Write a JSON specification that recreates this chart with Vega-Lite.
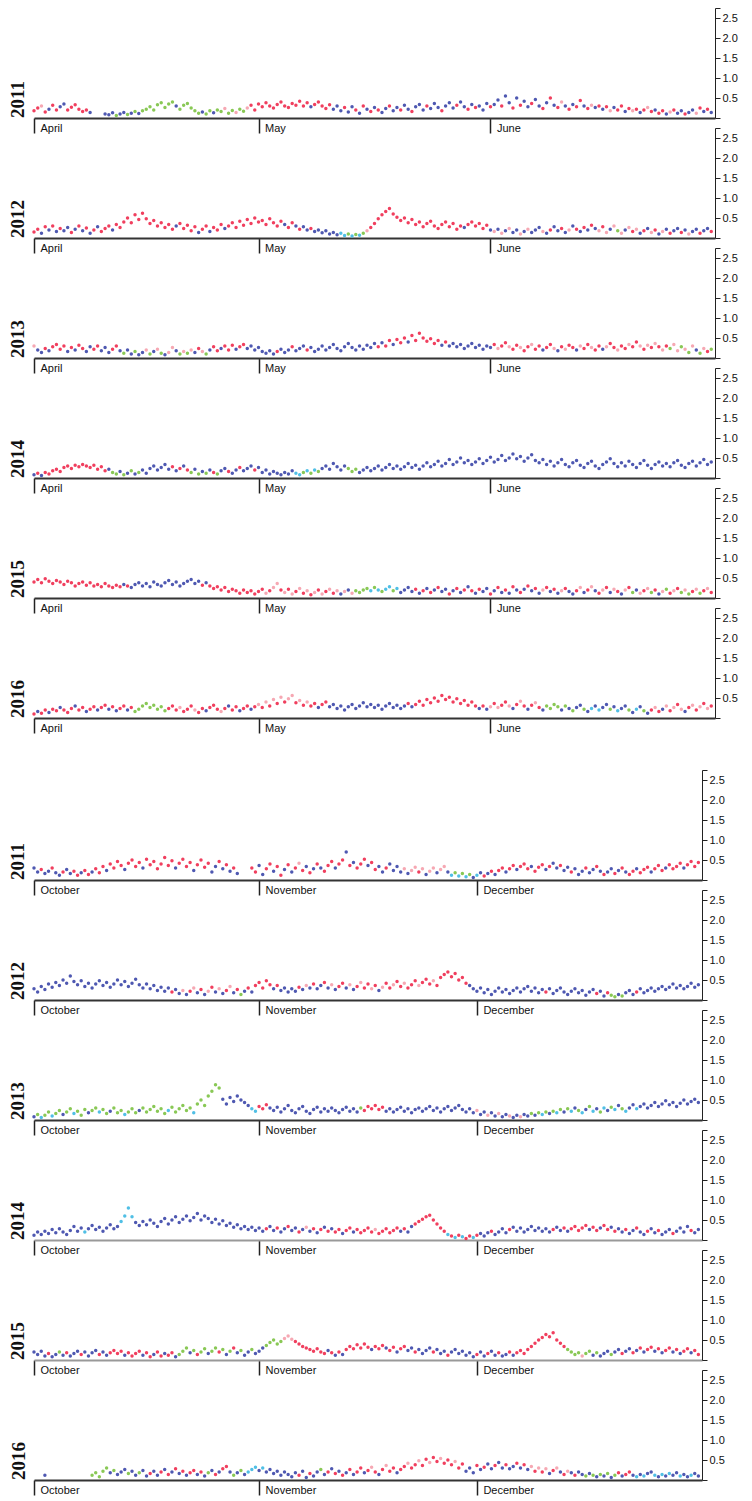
{
"$schema":"https://vega.github.io/schema/vega-lite/v6.json",
"padding":{"left":9,"top":7,"right":4,"bottom":2},
"config":{
"view":{"stroke":null},
"title":{"orient":"left","anchor":"start","frame":"group","font":"Liberation Serif","fontSize":19,"fontWeight":"bold","color":"#111","offset":4},
"axis":{"grid":false,"labelFont":"Liberation Sans","labelFontSize":11,"labelColor":"#111"},
"axisX":{"domainColor":"#333","domainWidth":2,"tickColor":"#222","tickWidth":1.5,"tickSize":15,"labelPadding":-11,"labelAlign":"left","labelBaseline":"top","labelOffset":6,"labelFlush":false,"labelOverlap":false,"labelBound":false},
"axisY":{"domainColor":"#222","tickColor":"#222","tickSize":5,"labelPadding":2},
"circle":{"size":12,"opacity":0.9}
},
"datasets":{
"a11":[{"d":0,"v":0.18,"c":"r"},{"d":0.5,"v":0.25,"c":"r"},{"d":1,"v":0.3,"c":"p"},{"d":1.5,"v":0.15,"c":"r"},{"d":2,"v":0.22,"c":"b"},{"d":2.5,"v":0.32,"c":"r"},{"d":3,"v":0.2,"c":"r"},{"d":3.5,"v":0.28,"c":"b"},{"d":4,"v":0.35,"c":"b"},{"d":4.5,"v":0.2,"c":"r"},{"d":5,"v":0.27,"c":"r"},{"d":5.5,"v":0.33,"c":"r"},{"d":6,"v":0.22,"c":"r"},{"d":6.5,"v":0.16,"c":"r"},{"d":7,"v":0.2,"c":"r"},{"d":7.5,"v":0.14,"c":"b"},{"d":9.5,"v":0.1,"c":"b"},{"d":10,"v":0.08,"c":"b"},{"d":10.5,"v":0.13,"c":"b"},{"d":11,"v":0.06,"c":"g"},{"d":11.5,"v":0.1,"c":"b"},{"d":12,"v":0.14,"c":"b"},{"d":12.5,"v":0.09,"c":"g"},{"d":13,"v":0.12,"c":"b"},{"d":13.5,"v":0.16,"c":"g"},{"d":14,"v":0.11,"c":"b"},{"d":14.5,"v":0.18,"c":"g"},{"d":15,"v":0.22,"c":"g"},{"d":15.5,"v":0.28,"c":"g"},{"d":16,"v":0.2,"c":"g"},{"d":16.5,"v":0.33,"c":"g"},{"d":17,"v":0.38,"c":"g"},{"d":17.5,"v":0.26,"c":"g"},{"d":18,"v":0.35,"c":"g"},{"d":18.5,"v":0.4,"c":"g"},{"d":19,"v":0.3,"c":"b"},{"d":19.5,"v":0.22,"c":"g"},{"d":20,"v":0.32,"c":"g"},{"d":20.5,"v":0.36,"c":"g"},{"d":21,"v":0.25,"c":"g"},{"d":21.5,"v":0.18,"c":"g"},{"d":22,"v":0.12,"c":"g"},{"d":22.5,"v":0.15,"c":"b"},{"d":23,"v":0.1,"c":"g"},{"d":23.5,"v":0.18,"c":"g"},{"d":24,"v":0.13,"c":"b"},{"d":24.5,"v":0.2,"c":"g"},{"d":25,"v":0.16,"c":"g"},{"d":25.5,"v":0.24,"c":"p"},{"d":26,"v":0.12,"c":"g"},{"d":26.5,"v":0.19,"c":"g"},{"d":27,"v":0.14,"c":"p"},{"d":27.5,"v":0.22,"c":"g"},{"d":28,"v":0.17,"c":"g"},{"d":28.5,"v":0.25,"c":"p"},{"d":29,"v":0.32,"c":"r"},{"d":29.5,"v":0.2,"c":"r"},{"d":30,"v":0.35,"c":"r"},{"d":30.5,"v":0.28,"c":"r"},{"d":31,"v":0.38,"c":"r"},{"d":31.5,"v":0.3,"c":"r"},{"d":32,"v":0.25,"c":"r"},{"d":32.5,"v":0.34,"c":"r"},{"d":33,"v":0.4,"c":"r"},{"d":33.5,"v":0.3,"c":"r"},{"d":34,"v":0.26,"c":"r"},{"d":34.5,"v":0.36,"c":"r"},{"d":35,"v":0.32,"c":"r"},{"d":35.5,"v":0.42,"c":"r"},{"d":36,"v":0.3,"c":"r"},{"d":36.5,"v":0.38,"c":"r"},{"d":37,"v":0.28,"c":"b"},{"d":37.5,"v":0.34,"c":"r"},{"d":38,"v":0.4,"c":"r"},{"d":38.5,"v":0.3,"c":"r"},{"d":39,"v":0.24,"c":"r"},{"d":39.5,"v":0.33,"c":"r"},{"d":40,"v":0.22,"c":"b"},{"d":40.5,"v":0.3,"c":"b"},{"d":41,"v":0.18,"c":"b"},{"d":41.5,"v":0.26,"c":"r"},{"d":42,"v":0.15,"c":"b"},{"d":42.5,"v":0.28,"c":"b"},{"d":43,"v":0.2,"c":"r"},{"d":43.5,"v":0.12,"c":"b"},{"d":44,"v":0.3,"c":"r"},{"d":44.5,"v":0.22,"c":"b"},{"d":45,"v":0.16,"c":"r"},{"d":45.5,"v":0.26,"c":"b"},{"d":46,"v":0.2,"c":"r"},{"d":46.5,"v":0.14,"c":"b"},{"d":47,"v":0.24,"c":"b"},{"d":47.5,"v":0.3,"c":"r"},{"d":48,"v":0.18,"c":"b"},{"d":48.5,"v":0.26,"c":"b"},{"d":49,"v":0.2,"c":"r"},{"d":49.5,"v":0.32,"c":"b"},{"d":50,"v":0.22,"c":"b"},{"d":50.5,"v":0.16,"c":"r"},{"d":51,"v":0.28,"c":"b"},{"d":51.5,"v":0.34,"c":"b"},{"d":52,"v":0.2,"c":"b"},{"d":52.5,"v":0.3,"c":"r"},{"d":53,"v":0.24,"c":"b"},{"d":53.5,"v":0.36,"c":"b"},{"d":54,"v":0.26,"c":"b"},{"d":54.5,"v":0.18,"c":"r"},{"d":55,"v":0.3,"c":"b"},{"d":55.5,"v":0.38,"c":"b"},{"d":56,"v":0.25,"c":"b"},{"d":56.5,"v":0.32,"c":"r"},{"d":57,"v":0.4,"c":"b"},{"d":57.5,"v":0.28,"c":"b"},{"d":58,"v":0.22,"c":"r"},{"d":58.5,"v":0.34,"c":"b"},{"d":59,"v":0.26,"c":"r"},{"d":59.5,"v":0.3,"c":"b"},{"d":60,"v":0.2,"c":"b"},{"d":60.5,"v":0.36,"c":"b"},{"d":61,"v":0.28,"c":"r"},{"d":61.5,"v":0.34,"c":"b"},{"d":62,"v":0.45,"c":"b"},{"d":62.5,"v":0.3,"c":"r"},{"d":63,"v":0.55,"c":"b"},{"d":63.5,"v":0.38,"c":"b"},{"d":64,"v":0.25,"c":"r"},{"d":64.5,"v":0.5,"c":"b"},{"d":65,"v":0.32,"c":"r"},{"d":65.5,"v":0.42,"c":"b"},{"d":66,"v":0.28,"c":"b"},{"d":66.5,"v":0.36,"c":"r"},{"d":67,"v":0.46,"c":"b"},{"d":67.5,"v":0.3,"c":"b"},{"d":68,"v":0.24,"c":"r"},{"d":68.5,"v":0.38,"c":"b"},{"d":69,"v":0.5,"c":"r"},{"d":69.5,"v":0.32,"c":"b"},{"d":70,"v":0.26,"c":"r"},{"d":70.5,"v":0.4,"c":"p"},{"d":71,"v":0.3,"c":"b"},{"d":71.5,"v":0.22,"c":"r"},{"d":72,"v":0.34,"c":"b"},{"d":72.5,"v":0.28,"c":"r"},{"d":73,"v":0.44,"c":"r"},{"d":73.5,"v":0.3,"c":"b"},{"d":74,"v":0.24,"c":"r"},{"d":74.5,"v":0.32,"c":"p"},{"d":75,"v":0.26,"c":"b"},{"d":75.5,"v":0.3,"c":"r"},{"d":76,"v":0.22,"c":"b"},{"d":76.5,"v":0.28,"c":"r"},{"d":77,"v":0.18,"c":"p"},{"d":77.5,"v":0.26,"c":"b"},{"d":78,"v":0.2,"c":"r"},{"d":78.5,"v":0.3,"c":"r"},{"d":79,"v":0.16,"c":"b"},{"d":79.5,"v":0.24,"c":"r"},{"d":80,"v":0.18,"c":"p"},{"d":80.5,"v":0.22,"c":"r"},{"d":81,"v":0.14,"c":"b"},{"d":81.5,"v":0.2,"c":"r"},{"d":82,"v":0.26,"c":"p"},{"d":82.5,"v":0.16,"c":"r"},{"d":83,"v":0.2,"c":"b"},{"d":83.5,"v":0.12,"c":"r"},{"d":84,"v":0.18,"c":"r"},{"d":84.5,"v":0.1,"c":"b"},{"d":85,"v":0.15,"c":"p"},{"d":85.5,"v":0.2,"c":"r"},{"d":86,"v":0.12,"c":"b"},{"d":86.5,"v":0.18,"c":"b"},{"d":87,"v":0.1,"c":"r"},{"d":87.5,"v":0.14,"c":"b"},{"d":88,"v":0.2,"c":"b"},{"d":88.5,"v":0.12,"c":"p"},{"d":89,"v":0.25,"c":"r"},{"d":89.5,"v":0.16,"c":"b"},{"d":90,"v":0.22,"c":"r"},{"d":90.5,"v":0.14,"c":"b"}],
"a12":[{"d":0,"v":0.15,"c":"r"},{"d":0.5,"v":0.22,"c":"r"},{"d":1,"v":0.12,"c":"b"},{"d":1.5,"v":0.28,"c":"r"},{"d":2,"v":0.2,"c":"b"},{"d":2.5,"v":0.3,"c":"r"},{"d":3,"v":0.16,"c":"b"},{"d":3.5,"v":0.24,"c":"r"},{"d":4,"v":0.18,"c":"b"},{"d":4.5,"v":0.26,"c":"b"},{"d":5,"v":0.14,"c":"r"},{"d":5.5,"v":0.22,"c":"b"},{"d":6,"v":0.3,"c":"r"},{"d":6.5,"v":0.18,"c":"b"},{"d":7,"v":0.25,"c":"r"},{"d":7.5,"v":0.12,"c":"b"},{"d":8,"v":0.2,"c":"r"},{"d":8.5,"v":0.28,"c":"b"},{"d":9,"v":0.16,"c":"r"},{"d":9.5,"v":0.24,"c":"r"},{"d":10,"v":0.3,"c":"r"},{"d":10.5,"v":0.2,"c":"b"},{"d":11,"v":0.34,"c":"r"},{"d":11.5,"v":0.26,"c":"r"},{"d":12,"v":0.4,"c":"r"},{"d":12.5,"v":0.5,"c":"r"},{"d":13,"v":0.38,"c":"r"},{"d":13.5,"v":0.58,"c":"r"},{"d":14,"v":0.46,"c":"r"},{"d":14.5,"v":0.62,"c":"r"},{"d":15,"v":0.48,"c":"r"},{"d":15.5,"v":0.36,"c":"r"},{"d":16,"v":0.44,"c":"r"},{"d":16.5,"v":0.3,"c":"r"},{"d":17,"v":0.38,"c":"r"},{"d":17.5,"v":0.26,"c":"r"},{"d":18,"v":0.34,"c":"r"},{"d":18.5,"v":0.22,"c":"r"},{"d":19,"v":0.3,"c":"b"},{"d":19.5,"v":0.36,"c":"r"},{"d":20,"v":0.24,"c":"r"},{"d":20.5,"v":0.32,"c":"r"},{"d":21,"v":0.18,"c":"r"},{"d":21.5,"v":0.28,"c":"r"},{"d":22,"v":0.14,"c":"b"},{"d":22.5,"v":0.22,"c":"r"},{"d":23,"v":0.3,"c":"r"},{"d":23.5,"v":0.16,"c":"b"},{"d":24,"v":0.26,"c":"r"},{"d":24.5,"v":0.2,"c":"r"},{"d":25,"v":0.34,"c":"r"},{"d":25.5,"v":0.24,"c":"b"},{"d":26,"v":0.3,"c":"r"},{"d":26.5,"v":0.38,"c":"r"},{"d":27,"v":0.26,"c":"r"},{"d":27.5,"v":0.42,"c":"r"},{"d":28,"v":0.32,"c":"r"},{"d":28.5,"v":0.46,"c":"r"},{"d":29,"v":0.36,"c":"r"},{"d":29.5,"v":0.5,"c":"r"},{"d":30,"v":0.4,"c":"r"},{"d":30.5,"v":0.44,"c":"r"},{"d":31,"v":0.34,"c":"r"},{"d":31.5,"v":0.48,"c":"r"},{"d":32,"v":0.38,"c":"r"},{"d":32.5,"v":0.3,"c":"r"},{"d":33,"v":0.42,"c":"r"},{"d":33.5,"v":0.34,"c":"b"},{"d":34,"v":0.26,"c":"r"},{"d":34.5,"v":0.38,"c":"r"},{"d":35,"v":0.3,"c":"b"},{"d":35.5,"v":0.22,"c":"r"},{"d":36,"v":0.28,"c":"b"},{"d":36.5,"v":0.2,"c":"b"},{"d":37,"v":0.24,"c":"r"},{"d":37.5,"v":0.16,"c":"b"},{"d":38,"v":0.2,"c":"b"},{"d":38.5,"v":0.13,"c":"b"},{"d":39,"v":0.18,"c":"b"},{"d":39.5,"v":0.1,"c":"b"},{"d":40,"v":0.14,"c":"b"},{"d":40.5,"v":0.08,"c":"b"},{"d":41,"v":0.12,"c":"c"},{"d":41.5,"v":0.06,"c":"c"},{"d":42,"v":0.1,"c":"g"},{"d":42.5,"v":0.05,"c":"c"},{"d":43,"v":0.09,"c":"g"},{"d":43.5,"v":0.07,"c":"c"},{"d":44,"v":0.12,"c":"g"},{"d":44.5,"v":0.18,"c":"p"},{"d":45,"v":0.26,"c":"r"},{"d":45.5,"v":0.36,"c":"r"},{"d":46,"v":0.48,"c":"r"},{"d":46.5,"v":0.58,"c":"r"},{"d":47,"v":0.66,"c":"r"},{"d":47.5,"v":0.74,"c":"r"},{"d":48,"v":0.6,"c":"r"},{"d":48.5,"v":0.52,"c":"r"},{"d":49,"v":0.44,"c":"r"},{"d":49.5,"v":0.5,"c":"r"},{"d":50,"v":0.38,"c":"r"},{"d":50.5,"v":0.46,"c":"r"},{"d":51,"v":0.34,"c":"r"},{"d":51.5,"v":0.4,"c":"r"},{"d":52,"v":0.28,"c":"r"},{"d":52.5,"v":0.36,"c":"r"},{"d":53,"v":0.42,"c":"r"},{"d":53.5,"v":0.3,"c":"r"},{"d":54,"v":0.24,"c":"r"},{"d":54.5,"v":0.34,"c":"r"},{"d":55,"v":0.4,"c":"r"},{"d":55.5,"v":0.28,"c":"r"},{"d":56,"v":0.36,"c":"r"},{"d":56.5,"v":0.22,"c":"r"},{"d":57,"v":0.3,"c":"r"},{"d":57.5,"v":0.26,"c":"b"},{"d":58,"v":0.34,"c":"r"},{"d":58.5,"v":0.4,"c":"r"},{"d":59,"v":0.3,"c":"r"},{"d":59.5,"v":0.36,"c":"r"},{"d":60,"v":0.24,"c":"r"},{"d":60.5,"v":0.32,"c":"r"},{"d":61,"v":0.2,"c":"b"},{"d":61.5,"v":0.16,"c":"p"},{"d":62,"v":0.22,"c":"b"},{"d":62.5,"v":0.12,"c":"p"},{"d":63,"v":0.18,"c":"b"},{"d":63.5,"v":0.24,"c":"p"},{"d":64,"v":0.14,"c":"b"},{"d":64.5,"v":0.2,"c":"b"},{"d":65,"v":0.1,"c":"p"},{"d":65.5,"v":0.16,"c":"b"},{"d":66,"v":0.22,"c":"p"},{"d":66.5,"v":0.14,"c":"b"},{"d":67,"v":0.2,"c":"b"},{"d":67.5,"v":0.26,"c":"b"},{"d":68,"v":0.16,"c":"p"},{"d":68.5,"v":0.12,"c":"b"},{"d":69,"v":0.2,"c":"r"},{"d":69.5,"v":0.28,"c":"b"},{"d":70,"v":0.18,"c":"b"},{"d":70.5,"v":0.24,"c":"r"},{"d":71,"v":0.14,"c":"b"},{"d":71.5,"v":0.2,"c":"p"},{"d":72,"v":0.3,"c":"b"},{"d":72.5,"v":0.22,"c":"r"},{"d":73,"v":0.16,"c":"b"},{"d":73.5,"v":0.26,"c":"r"},{"d":74,"v":0.2,"c":"b"},{"d":74.5,"v":0.32,"c":"r"},{"d":75,"v":0.24,"c":"b"},{"d":75.5,"v":0.18,"c":"p"},{"d":76,"v":0.28,"c":"r"},{"d":76.5,"v":0.14,"c":"p"},{"d":77,"v":0.22,"c":"b"},{"d":77.5,"v":0.3,"c":"p"},{"d":78,"v":0.18,"c":"g"},{"d":78.5,"v":0.12,"c":"p"},{"d":79,"v":0.2,"c":"b"},{"d":79.5,"v":0.26,"c":"p"},{"d":80,"v":0.16,"c":"r"},{"d":80.5,"v":0.22,"c":"p"},{"d":81,"v":0.12,"c":"b"},{"d":81.5,"v":0.18,"c":"r"},{"d":82,"v":0.24,"c":"b"},{"d":82.5,"v":0.14,"c":"p"},{"d":83,"v":0.2,"c":"r"},{"d":83.5,"v":0.1,"c":"b"},{"d":84,"v":0.16,"c":"p"},{"d":84.5,"v":0.22,"c":"b"},{"d":85,"v":0.12,"c":"r"},{"d":85.5,"v":0.18,"c":"b"},{"d":86,"v":0.24,"c":"b"},{"d":86.5,"v":0.14,"c":"r"},{"d":87,"v":0.2,"c":"b"},{"d":87.5,"v":0.1,"c":"p"},{"d":88,"v":0.16,"c":"b"},{"d":88.5,"v":0.22,"c":"b"},{"d":89,"v":0.12,"c":"r"},{"d":89.5,"v":0.18,"c":"b"},{"d":90,"v":0.24,"c":"b"},{"d":90.5,"v":0.16,"c":"r"}],
"a13":[{"d":0,"v":0.3,"c":"p"},{"d":0.5,"v":0.2,"c":"b"},{"d":1,"v":0.14,"c":"b"},{"d":1.5,"v":0.24,"c":"r"},{"d":2,"v":0.18,"c":"b"},{"d":2.5,"v":0.28,"c":"r"},{"d":3,"v":0.34,"c":"r"},{"d":3.5,"v":0.22,"c":"r"},{"d":4,"v":0.3,"c":"r"},{"d":4.5,"v":0.16,"c":"b"},{"d":5,"v":0.26,"c":"r"},{"d":5.5,"v":0.2,"c":"b"},{"d":6,"v":0.32,"c":"r"},{"d":6.5,"v":0.24,"c":"r"},{"d":7,"v":0.16,"c":"b"},{"d":7.5,"v":0.28,"c":"b"},{"d":8,"v":0.22,"c":"r"},{"d":8.5,"v":0.3,"c":"r"},{"d":9,"v":0.18,"c":"b"},{"d":9.5,"v":0.26,"c":"b"},{"d":10,"v":0.14,"c":"b"},{"d":10.5,"v":0.22,"c":"r"},{"d":11,"v":0.3,"c":"r"},{"d":11.5,"v":0.18,"c":"b"},{"d":12,"v":0.12,"c":"g"},{"d":12.5,"v":0.2,"c":"b"},{"d":13,"v":0.1,"c":"b"},{"d":13.5,"v":0.16,"c":"g"},{"d":14,"v":0.08,"c":"b"},{"d":14.5,"v":0.14,"c":"b"},{"d":15,"v":0.2,"c":"p"},{"d":15.5,"v":0.1,"c":"g"},{"d":16,"v":0.16,"c":"b"},{"d":16.5,"v":0.22,"c":"p"},{"d":17,"v":0.12,"c":"g"},{"d":17.5,"v":0.08,"c":"b"},{"d":18,"v":0.14,"c":"p"},{"d":18.5,"v":0.26,"c":"p"},{"d":19,"v":0.18,"c":"b"},{"d":19.5,"v":0.1,"c":"g"},{"d":20,"v":0.16,"c":"p"},{"d":20.5,"v":0.12,"c":"g"},{"d":21,"v":0.2,"c":"p"},{"d":21.5,"v":0.14,"c":"b"},{"d":22,"v":0.24,"c":"r"},{"d":22.5,"v":0.16,"c":"p"},{"d":23,"v":0.1,"c":"g"},{"d":23.5,"v":0.2,"c":"b"},{"d":24,"v":0.28,"c":"r"},{"d":24.5,"v":0.18,"c":"r"},{"d":25,"v":0.24,"c":"b"},{"d":25.5,"v":0.3,"c":"r"},{"d":26,"v":0.2,"c":"r"},{"d":26.5,"v":0.32,"c":"r"},{"d":27,"v":0.22,"c":"b"},{"d":27.5,"v":0.28,"c":"r"},{"d":28,"v":0.34,"c":"r"},{"d":28.5,"v":0.24,"c":"b"},{"d":29,"v":0.3,"c":"b"},{"d":29.5,"v":0.2,"c":"b"},{"d":30,"v":0.26,"c":"b"},{"d":30.5,"v":0.16,"c":"b"},{"d":31,"v":0.12,"c":"b"},{"d":31.5,"v":0.18,"c":"b"},{"d":32,"v":0.1,"c":"b"},{"d":32.5,"v":0.16,"c":"r"},{"d":33,"v":0.22,"c":"b"},{"d":33.5,"v":0.14,"c":"b"},{"d":34,"v":0.2,"c":"b"},{"d":34.5,"v":0.28,"c":"r"},{"d":35,"v":0.18,"c":"b"},{"d":35.5,"v":0.24,"c":"b"},{"d":36,"v":0.3,"c":"b"},{"d":36.5,"v":0.2,"c":"r"},{"d":37,"v":0.26,"c":"b"},{"d":37.5,"v":0.16,"c":"b"},{"d":38,"v":0.22,"c":"b"},{"d":38.5,"v":0.3,"c":"b"},{"d":39,"v":0.2,"c":"b"},{"d":39.5,"v":0.26,"c":"b"},{"d":40,"v":0.34,"c":"b"},{"d":40.5,"v":0.24,"c":"b"},{"d":41,"v":0.18,"c":"b"},{"d":41.5,"v":0.28,"c":"b"},{"d":42,"v":0.36,"c":"b"},{"d":42.5,"v":0.26,"c":"b"},{"d":43,"v":0.2,"c":"b"},{"d":43.5,"v":0.3,"c":"b"},{"d":44,"v":0.22,"c":"b"},{"d":44.5,"v":0.32,"c":"b"},{"d":45,"v":0.26,"c":"b"},{"d":45.5,"v":0.36,"c":"b"},{"d":46,"v":0.28,"c":"r"},{"d":46.5,"v":0.38,"c":"b"},{"d":47,"v":0.3,"c":"r"},{"d":47.5,"v":0.44,"c":"r"},{"d":48,"v":0.34,"c":"b"},{"d":48.5,"v":0.46,"c":"r"},{"d":49,"v":0.38,"c":"r"},{"d":49.5,"v":0.5,"c":"r"},{"d":50,"v":0.4,"c":"b"},{"d":50.5,"v":0.56,"c":"r"},{"d":51,"v":0.44,"c":"r"},{"d":51.5,"v":0.62,"c":"r"},{"d":52,"v":0.5,"c":"r"},{"d":52.5,"v":0.42,"c":"r"},{"d":53,"v":0.48,"c":"r"},{"d":53.5,"v":0.36,"c":"r"},{"d":54,"v":0.44,"c":"r"},{"d":54.5,"v":0.32,"c":"b"},{"d":55,"v":0.4,"c":"r"},{"d":55.5,"v":0.3,"c":"b"},{"d":56,"v":0.36,"c":"b"},{"d":56.5,"v":0.28,"c":"b"},{"d":57,"v":0.34,"c":"b"},{"d":57.5,"v":0.24,"c":"b"},{"d":58,"v":0.3,"c":"b"},{"d":58.5,"v":0.36,"c":"b"},{"d":59,"v":0.26,"c":"b"},{"d":59.5,"v":0.32,"c":"b"},{"d":60,"v":0.22,"c":"b"},{"d":60.5,"v":0.3,"c":"b"},{"d":61,"v":0.26,"c":"b"},{"d":61.5,"v":0.34,"c":"r"},{"d":62,"v":0.24,"c":"p"},{"d":62.5,"v":0.3,"c":"r"},{"d":63,"v":0.38,"c":"r"},{"d":63.5,"v":0.28,"c":"p"},{"d":64,"v":0.22,"c":"r"},{"d":64.5,"v":0.32,"c":"r"},{"d":65,"v":0.26,"c":"p"},{"d":65.5,"v":0.18,"c":"r"},{"d":66,"v":0.28,"c":"r"},{"d":66.5,"v":0.34,"c":"p"},{"d":67,"v":0.22,"c":"r"},{"d":67.5,"v":0.3,"c":"r"},{"d":68,"v":0.2,"c":"b"},{"d":68.5,"v":0.26,"c":"r"},{"d":69,"v":0.34,"c":"r"},{"d":69.5,"v":0.24,"c":"p"},{"d":70,"v":0.18,"c":"b"},{"d":70.5,"v":0.28,"c":"r"},{"d":71,"v":0.22,"c":"p"},{"d":71.5,"v":0.32,"c":"r"},{"d":72,"v":0.26,"c":"r"},{"d":72.5,"v":0.2,"c":"b"},{"d":73,"v":0.3,"c":"p"},{"d":73.5,"v":0.24,"c":"r"},{"d":74,"v":0.34,"c":"r"},{"d":74.5,"v":0.26,"c":"p"},{"d":75,"v":0.2,"c":"r"},{"d":75.5,"v":0.3,"c":"r"},{"d":76,"v":0.22,"c":"b"},{"d":76.5,"v":0.28,"c":"p"},{"d":77,"v":0.36,"c":"r"},{"d":77.5,"v":0.26,"c":"r"},{"d":78,"v":0.2,"c":"p"},{"d":78.5,"v":0.3,"c":"r"},{"d":79,"v":0.24,"c":"r"},{"d":79.5,"v":0.34,"c":"p"},{"d":80,"v":0.28,"c":"r"},{"d":80.5,"v":0.4,"c":"r"},{"d":81,"v":0.3,"c":"p"},{"d":81.5,"v":0.22,"c":"r"},{"d":82,"v":0.32,"c":"p"},{"d":82.5,"v":0.26,"c":"r"},{"d":83,"v":0.36,"c":"p"},{"d":83.5,"v":0.28,"c":"r"},{"d":84,"v":0.2,"c":"p"},{"d":84.5,"v":0.3,"c":"r"},{"d":85,"v":0.24,"c":"g"},{"d":85.5,"v":0.34,"c":"p"},{"d":86,"v":0.18,"c":"p"},{"d":86.5,"v":0.28,"c":"g"},{"d":87,"v":0.22,"c":"p"},{"d":87.5,"v":0.14,"c":"g"},{"d":88,"v":0.3,"c":"p"},{"d":88.5,"v":0.2,"c":"b"},{"d":89,"v":0.12,"c":"g"},{"d":89.5,"v":0.24,"c":"p"},{"d":90,"v":0.16,"c":"r"},{"d":90.5,"v":0.22,"c":"g"}],
"a14":[{"d":0,"v":0.08,"c":"b"},{"d":0.5,"v":0.12,"c":"r"},{"d":1,"v":0.06,"c":"b"},{"d":1.5,"v":0.14,"c":"r"},{"d":2,"v":0.1,"c":"r"},{"d":2.5,"v":0.18,"c":"r"},{"d":3,"v":0.22,"c":"r"},{"d":3.5,"v":0.16,"c":"r"},{"d":4,"v":0.26,"c":"r"},{"d":4.5,"v":0.3,"c":"r"},{"d":5,"v":0.24,"c":"r"},{"d":5.5,"v":0.32,"c":"r"},{"d":6,"v":0.28,"c":"r"},{"d":6.5,"v":0.34,"c":"r"},{"d":7,"v":0.3,"c":"r"},{"d":7.5,"v":0.26,"c":"r"},{"d":8,"v":0.32,"c":"r"},{"d":8.5,"v":0.22,"c":"r"},{"d":9,"v":0.28,"c":"r"},{"d":9.5,"v":0.18,"c":"r"},{"d":10,"v":0.22,"c":"b"},{"d":10.5,"v":0.14,"c":"g"},{"d":11,"v":0.1,"c":"g"},{"d":11.5,"v":0.16,"c":"b"},{"d":12,"v":0.08,"c":"g"},{"d":12.5,"v":0.12,"c":"b"},{"d":13,"v":0.18,"c":"g"},{"d":13.5,"v":0.1,"c":"b"},{"d":14,"v":0.14,"c":"g"},{"d":14.5,"v":0.2,"c":"b"},{"d":15,"v":0.12,"c":"b"},{"d":15.5,"v":0.24,"c":"b"},{"d":16,"v":0.3,"c":"b"},{"d":16.5,"v":0.2,"c":"b"},{"d":17,"v":0.26,"c":"b"},{"d":17.5,"v":0.34,"c":"b"},{"d":18,"v":0.22,"c":"b"},{"d":18.5,"v":0.28,"c":"r"},{"d":19,"v":0.18,"c":"b"},{"d":19.5,"v":0.24,"c":"r"},{"d":20,"v":0.3,"c":"b"},{"d":20.5,"v":0.2,"c":"r"},{"d":21,"v":0.14,"c":"g"},{"d":21.5,"v":0.22,"c":"b"},{"d":22,"v":0.1,"c":"g"},{"d":22.5,"v":0.16,"c":"b"},{"d":23,"v":0.12,"c":"g"},{"d":23.5,"v":0.2,"c":"b"},{"d":24,"v":0.14,"c":"r"},{"d":24.5,"v":0.1,"c":"g"},{"d":25,"v":0.18,"c":"b"},{"d":25.5,"v":0.24,"c":"b"},{"d":26,"v":0.16,"c":"r"},{"d":26.5,"v":0.12,"c":"b"},{"d":27,"v":0.2,"c":"b"},{"d":27.5,"v":0.26,"c":"r"},{"d":28,"v":0.18,"c":"b"},{"d":28.5,"v":0.24,"c":"b"},{"d":29,"v":0.3,"c":"b"},{"d":29.5,"v":0.2,"c":"r"},{"d":30,"v":0.26,"c":"b"},{"d":30.5,"v":0.14,"c":"b"},{"d":31,"v":0.2,"c":"b"},{"d":31.5,"v":0.1,"c":"b"},{"d":32,"v":0.16,"c":"b"},{"d":32.5,"v":0.12,"c":"b"},{"d":33,"v":0.08,"c":"b"},{"d":33.5,"v":0.14,"c":"b"},{"d":34,"v":0.1,"c":"b"},{"d":34.5,"v":0.18,"c":"b"},{"d":35,"v":0.12,"c":"c"},{"d":35.5,"v":0.08,"c":"c"},{"d":36,"v":0.14,"c":"g"},{"d":36.5,"v":0.18,"c":"c"},{"d":37,"v":0.12,"c":"g"},{"d":37.5,"v":0.2,"c":"c"},{"d":38,"v":0.16,"c":"g"},{"d":38.5,"v":0.24,"c":"b"},{"d":39,"v":0.3,"c":"b"},{"d":39.5,"v":0.22,"c":"b"},{"d":40,"v":0.36,"c":"b"},{"d":40.5,"v":0.28,"c":"b"},{"d":41,"v":0.2,"c":"b"},{"d":41.5,"v":0.3,"c":"b"},{"d":42,"v":0.24,"c":"g"},{"d":42.5,"v":0.16,"c":"g"},{"d":43,"v":0.22,"c":"g"},{"d":43.5,"v":0.14,"c":"b"},{"d":44,"v":0.2,"c":"b"},{"d":44.5,"v":0.26,"c":"b"},{"d":45,"v":0.18,"c":"b"},{"d":45.5,"v":0.24,"c":"b"},{"d":46,"v":0.3,"c":"b"},{"d":46.5,"v":0.2,"c":"b"},{"d":47,"v":0.26,"c":"b"},{"d":47.5,"v":0.34,"c":"b"},{"d":48,"v":0.24,"c":"b"},{"d":48.5,"v":0.3,"c":"b"},{"d":49,"v":0.22,"c":"b"},{"d":49.5,"v":0.28,"c":"b"},{"d":50,"v":0.36,"c":"b"},{"d":50.5,"v":0.26,"c":"b"},{"d":51,"v":0.32,"c":"b"},{"d":51.5,"v":0.22,"c":"b"},{"d":52,"v":0.3,"c":"b"},{"d":52.5,"v":0.38,"c":"b"},{"d":53,"v":0.28,"c":"b"},{"d":53.5,"v":0.34,"c":"b"},{"d":54,"v":0.42,"c":"b"},{"d":54.5,"v":0.3,"c":"b"},{"d":55,"v":0.36,"c":"b"},{"d":55.5,"v":0.46,"c":"b"},{"d":56,"v":0.34,"c":"b"},{"d":56.5,"v":0.4,"c":"b"},{"d":57,"v":0.5,"c":"b"},{"d":57.5,"v":0.38,"c":"b"},{"d":58,"v":0.44,"c":"b"},{"d":58.5,"v":0.34,"c":"b"},{"d":59,"v":0.4,"c":"b"},{"d":59.5,"v":0.48,"c":"b"},{"d":60,"v":0.36,"c":"b"},{"d":60.5,"v":0.44,"c":"b"},{"d":61,"v":0.52,"c":"b"},{"d":61.5,"v":0.4,"c":"b"},{"d":62,"v":0.46,"c":"b"},{"d":62.5,"v":0.56,"c":"b"},{"d":63,"v":0.44,"c":"b"},{"d":63.5,"v":0.5,"c":"b"},{"d":64,"v":0.6,"c":"b"},{"d":64.5,"v":0.48,"c":"b"},{"d":65,"v":0.54,"c":"b"},{"d":65.5,"v":0.42,"c":"b"},{"d":66,"v":0.5,"c":"b"},{"d":66.5,"v":0.58,"c":"b"},{"d":67,"v":0.44,"c":"b"},{"d":67.5,"v":0.38,"c":"b"},{"d":68,"v":0.46,"c":"b"},{"d":68.5,"v":0.34,"c":"b"},{"d":69,"v":0.42,"c":"b"},{"d":69.5,"v":0.3,"c":"b"},{"d":70,"v":0.38,"c":"b"},{"d":70.5,"v":0.46,"c":"b"},{"d":71,"v":0.34,"c":"b"},{"d":71.5,"v":0.28,"c":"b"},{"d":72,"v":0.38,"c":"b"},{"d":72.5,"v":0.44,"c":"b"},{"d":73,"v":0.32,"c":"b"},{"d":73.5,"v":0.26,"c":"b"},{"d":74,"v":0.36,"c":"b"},{"d":74.5,"v":0.42,"c":"b"},{"d":75,"v":0.3,"c":"b"},{"d":75.5,"v":0.24,"c":"b"},{"d":76,"v":0.34,"c":"b"},{"d":76.5,"v":0.4,"c":"b"},{"d":77,"v":0.48,"c":"b"},{"d":77.5,"v":0.36,"c":"b"},{"d":78,"v":0.28,"c":"b"},{"d":78.5,"v":0.38,"c":"b"},{"d":79,"v":0.3,"c":"b"},{"d":79.5,"v":0.42,"c":"b"},{"d":80,"v":0.34,"c":"b"},{"d":80.5,"v":0.26,"c":"b"},{"d":81,"v":0.36,"c":"b"},{"d":81.5,"v":0.44,"c":"b"},{"d":82,"v":0.32,"c":"b"},{"d":82.5,"v":0.24,"c":"b"},{"d":83,"v":0.34,"c":"b"},{"d":83.5,"v":0.4,"c":"b"},{"d":84,"v":0.3,"c":"b"},{"d":84.5,"v":0.36,"c":"b"},{"d":85,"v":0.28,"c":"b"},{"d":85.5,"v":0.38,"c":"b"},{"d":86,"v":0.44,"c":"b"},{"d":86.5,"v":0.32,"c":"b"},{"d":87,"v":0.26,"c":"b"},{"d":87.5,"v":0.36,"c":"b"},{"d":88,"v":0.42,"c":"b"},{"d":88.5,"v":0.3,"c":"b"},{"d":89,"v":0.38,"c":"b"},{"d":89.5,"v":0.46,"c":"b"},{"d":90,"v":0.34,"c":"b"},{"d":90.5,"v":0.4,"c":"b"}],
"a15":[{"d":0,"v":0.4,"c":"r"},{"d":0.5,"v":0.46,"c":"r"},{"d":1,"v":0.38,"c":"r"},{"d":1.5,"v":0.48,"c":"r"},{"d":2,"v":0.42,"c":"r"},{"d":2.5,"v":0.36,"c":"r"},{"d":3,"v":0.44,"c":"r"},{"d":3.5,"v":0.4,"c":"r"},{"d":4,"v":0.34,"c":"r"},{"d":4.5,"v":0.42,"c":"r"},{"d":5,"v":0.38,"c":"r"},{"d":5.5,"v":0.3,"c":"r"},{"d":6,"v":0.36,"c":"r"},{"d":6.5,"v":0.4,"c":"r"},{"d":7,"v":0.32,"c":"r"},{"d":7.5,"v":0.38,"c":"r"},{"d":8,"v":0.3,"c":"r"},{"d":8.5,"v":0.34,"c":"r"},{"d":9,"v":0.28,"c":"r"},{"d":9.5,"v":0.36,"c":"r"},{"d":10,"v":0.3,"c":"r"},{"d":10.5,"v":0.26,"c":"r"},{"d":11,"v":0.32,"c":"r"},{"d":11.5,"v":0.28,"c":"r"},{"d":12,"v":0.34,"c":"b"},{"d":12.5,"v":0.3,"c":"r"},{"d":13,"v":0.26,"c":"b"},{"d":13.5,"v":0.34,"c":"b"},{"d":14,"v":0.38,"c":"b"},{"d":14.5,"v":0.3,"c":"b"},{"d":15,"v":0.36,"c":"b"},{"d":15.5,"v":0.28,"c":"b"},{"d":16,"v":0.4,"c":"b"},{"d":16.5,"v":0.34,"c":"b"},{"d":17,"v":0.3,"c":"b"},{"d":17.5,"v":0.38,"c":"b"},{"d":18,"v":0.44,"c":"b"},{"d":18.5,"v":0.34,"c":"b"},{"d":19,"v":0.4,"c":"b"},{"d":19.5,"v":0.3,"c":"b"},{"d":20,"v":0.36,"c":"b"},{"d":20.5,"v":0.42,"c":"b"},{"d":21,"v":0.46,"c":"b"},{"d":21.5,"v":0.36,"c":"b"},{"d":22,"v":0.42,"c":"b"},{"d":22.5,"v":0.32,"c":"r"},{"d":23,"v":0.38,"c":"b"},{"d":23.5,"v":0.3,"c":"r"},{"d":24,"v":0.24,"c":"r"},{"d":24.5,"v":0.28,"c":"r"},{"d":25,"v":0.2,"c":"r"},{"d":25.5,"v":0.26,"c":"r"},{"d":26,"v":0.16,"c":"r"},{"d":26.5,"v":0.22,"c":"r"},{"d":27,"v":0.18,"c":"r"},{"d":27.5,"v":0.12,"c":"r"},{"d":28,"v":0.2,"c":"r"},{"d":28.5,"v":0.14,"c":"r"},{"d":29,"v":0.18,"c":"r"},{"d":29.5,"v":0.1,"c":"r"},{"d":30,"v":0.16,"c":"r"},{"d":30.5,"v":0.22,"c":"r"},{"d":31,"v":0.12,"c":"p"},{"d":31.5,"v":0.18,"c":"r"},{"d":32,"v":0.26,"c":"p"},{"d":32.5,"v":0.36,"c":"p"},{"d":33,"v":0.2,"c":"r"},{"d":33.5,"v":0.14,"c":"p"},{"d":34,"v":0.22,"c":"r"},{"d":34.5,"v":0.1,"c":"p"},{"d":35,"v":0.16,"c":"r"},{"d":35.5,"v":0.24,"c":"p"},{"d":36,"v":0.12,"c":"r"},{"d":36.5,"v":0.18,"c":"p"},{"d":37,"v":0.08,"c":"r"},{"d":37.5,"v":0.14,"c":"p"},{"d":38,"v":0.2,"c":"r"},{"d":38.5,"v":0.1,"c":"p"},{"d":39,"v":0.16,"c":"r"},{"d":39.5,"v":0.22,"c":"p"},{"d":40,"v":0.12,"c":"r"},{"d":40.5,"v":0.18,"c":"p"},{"d":41,"v":0.1,"c":"b"},{"d":41.5,"v":0.16,"c":"p"},{"d":42,"v":0.2,"c":"b"},{"d":42.5,"v":0.12,"c":"p"},{"d":43,"v":0.18,"c":"g"},{"d":43.5,"v":0.14,"c":"g"},{"d":44,"v":0.2,"c":"g"},{"d":44.5,"v":0.24,"c":"g"},{"d":45,"v":0.18,"c":"c"},{"d":45.5,"v":0.26,"c":"g"},{"d":46,"v":0.2,"c":"c"},{"d":46.5,"v":0.16,"c":"g"},{"d":47,"v":0.22,"c":"c"},{"d":47.5,"v":0.28,"c":"c"},{"d":48,"v":0.18,"c":"g"},{"d":48.5,"v":0.24,"c":"c"},{"d":49,"v":0.14,"c":"b"},{"d":49.5,"v":0.2,"c":"b"},{"d":50,"v":0.26,"c":"b"},{"d":50.5,"v":0.16,"c":"b"},{"d":51,"v":0.22,"c":"r"},{"d":51.5,"v":0.12,"c":"b"},{"d":52,"v":0.18,"c":"r"},{"d":52.5,"v":0.24,"c":"b"},{"d":53,"v":0.14,"c":"r"},{"d":53.5,"v":0.2,"c":"b"},{"d":54,"v":0.26,"c":"r"},{"d":54.5,"v":0.16,"c":"b"},{"d":55,"v":0.22,"c":"b"},{"d":55.5,"v":0.1,"c":"r"},{"d":56,"v":0.18,"c":"b"},{"d":56.5,"v":0.24,"c":"r"},{"d":57,"v":0.14,"c":"b"},{"d":57.5,"v":0.2,"c":"r"},{"d":58,"v":0.28,"c":"b"},{"d":58.5,"v":0.18,"c":"r"},{"d":59,"v":0.12,"c":"b"},{"d":59.5,"v":0.22,"c":"r"},{"d":60,"v":0.16,"c":"b"},{"d":60.5,"v":0.24,"c":"b"},{"d":61,"v":0.1,"c":"r"},{"d":61.5,"v":0.18,"c":"b"},{"d":62,"v":0.26,"c":"r"},{"d":62.5,"v":0.14,"c":"b"},{"d":63,"v":0.2,"c":"r"},{"d":63.5,"v":0.12,"c":"b"},{"d":64,"v":0.28,"c":"r"},{"d":64.5,"v":0.2,"c":"b"},{"d":65,"v":0.14,"c":"r"},{"d":65.5,"v":0.22,"c":"b"},{"d":66,"v":0.3,"c":"r"},{"d":66.5,"v":0.18,"c":"b"},{"d":67,"v":0.24,"c":"r"},{"d":67.5,"v":0.12,"c":"b"},{"d":68,"v":0.2,"c":"p"},{"d":68.5,"v":0.26,"c":"r"},{"d":69,"v":0.16,"c":"b"},{"d":69.5,"v":0.22,"c":"r"},{"d":70,"v":0.12,"c":"b"},{"d":70.5,"v":0.18,"c":"p"},{"d":71,"v":0.24,"c":"r"},{"d":71.5,"v":0.16,"c":"b"},{"d":72,"v":0.1,"c":"b"},{"d":72.5,"v":0.18,"c":"r"},{"d":73,"v":0.26,"c":"p"},{"d":73.5,"v":0.14,"c":"b"},{"d":74,"v":0.2,"c":"r"},{"d":74.5,"v":0.28,"c":"p"},{"d":75,"v":0.18,"c":"b"},{"d":75.5,"v":0.12,"c":"r"},{"d":76,"v":0.2,"c":"p"},{"d":76.5,"v":0.26,"c":"r"},{"d":77,"v":0.14,"c":"b"},{"d":77.5,"v":0.22,"c":"p"},{"d":78,"v":0.16,"c":"r"},{"d":78.5,"v":0.1,"c":"b"},{"d":79,"v":0.2,"c":"p"},{"d":79.5,"v":0.26,"c":"r"},{"d":80,"v":0.14,"c":"g"},{"d":80.5,"v":0.2,"c":"b"},{"d":81,"v":0.12,"c":"p"},{"d":81.5,"v":0.18,"c":"r"},{"d":82,"v":0.24,"c":"p"},{"d":82.5,"v":0.14,"c":"g"},{"d":83,"v":0.2,"c":"r"},{"d":83.5,"v":0.1,"c":"b"},{"d":84,"v":0.16,"c":"p"},{"d":84.5,"v":0.22,"c":"g"},{"d":85,"v":0.12,"c":"r"},{"d":85.5,"v":0.18,"c":"p"},{"d":86,"v":0.24,"c":"r"},{"d":86.5,"v":0.14,"c":"g"},{"d":87,"v":0.2,"c":"p"},{"d":87.5,"v":0.1,"c":"g"},{"d":88,"v":0.16,"c":"r"},{"d":88.5,"v":0.22,"c":"p"},{"d":89,"v":0.12,"c":"g"},{"d":89.5,"v":0.18,"c":"r"},{"d":90,"v":0.24,"c":"p"},{"d":90.5,"v":0.14,"c":"r"}],
"a16":[{"d":0,"v":0.1,"c":"r"},{"d":0.5,"v":0.16,"c":"b"},{"d":1,"v":0.12,"c":"r"},{"d":1.5,"v":0.2,"c":"r"},{"d":2,"v":0.14,"c":"b"},{"d":2.5,"v":0.22,"c":"r"},{"d":3,"v":0.18,"c":"r"},{"d":3.5,"v":0.26,"c":"b"},{"d":4,"v":0.2,"c":"r"},{"d":4.5,"v":0.14,"c":"r"},{"d":5,"v":0.24,"c":"r"},{"d":5.5,"v":0.3,"c":"b"},{"d":6,"v":0.2,"c":"r"},{"d":6.5,"v":0.26,"c":"r"},{"d":7,"v":0.16,"c":"b"},{"d":7.5,"v":0.22,"c":"r"},{"d":8,"v":0.28,"c":"r"},{"d":8.5,"v":0.2,"c":"b"},{"d":9,"v":0.26,"c":"r"},{"d":9.5,"v":0.32,"c":"r"},{"d":10,"v":0.22,"c":"b"},{"d":10.5,"v":0.28,"c":"r"},{"d":11,"v":0.18,"c":"b"},{"d":11.5,"v":0.24,"c":"r"},{"d":12,"v":0.3,"c":"r"},{"d":12.5,"v":0.2,"c":"b"},{"d":13,"v":0.26,"c":"r"},{"d":13.5,"v":0.16,"c":"g"},{"d":14,"v":0.22,"c":"g"},{"d":14.5,"v":0.3,"c":"g"},{"d":15,"v":0.36,"c":"g"},{"d":15.5,"v":0.26,"c":"g"},{"d":16,"v":0.32,"c":"g"},{"d":16.5,"v":0.22,"c":"g"},{"d":17,"v":0.28,"c":"g"},{"d":17.5,"v":0.18,"c":"g"},{"d":18,"v":0.24,"c":"r"},{"d":18.5,"v":0.3,"c":"r"},{"d":19,"v":0.2,"c":"r"},{"d":19.5,"v":0.26,"c":"p"},{"d":20,"v":0.16,"c":"r"},{"d":20.5,"v":0.22,"c":"r"},{"d":21,"v":0.3,"c":"r"},{"d":21.5,"v":0.2,"c":"p"},{"d":22,"v":0.14,"c":"r"},{"d":22.5,"v":0.24,"c":"r"},{"d":23,"v":0.18,"c":"b"},{"d":23.5,"v":0.26,"c":"r"},{"d":24,"v":0.32,"c":"r"},{"d":24.5,"v":0.22,"c":"r"},{"d":25,"v":0.16,"c":"p"},{"d":25.5,"v":0.24,"c":"r"},{"d":26,"v":0.3,"c":"b"},{"d":26.5,"v":0.2,"c":"r"},{"d":27,"v":0.28,"c":"r"},{"d":27.5,"v":0.18,"c":"b"},{"d":28,"v":0.24,"c":"r"},{"d":28.5,"v":0.3,"c":"r"},{"d":29,"v":0.22,"c":"b"},{"d":29.5,"v":0.28,"c":"r"},{"d":30,"v":0.34,"c":"p"},{"d":30.5,"v":0.26,"c":"r"},{"d":31,"v":0.4,"c":"p"},{"d":31.5,"v":0.3,"c":"r"},{"d":32,"v":0.46,"c":"p"},{"d":32.5,"v":0.36,"c":"r"},{"d":33,"v":0.52,"c":"p"},{"d":33.5,"v":0.4,"c":"r"},{"d":34,"v":0.48,"c":"p"},{"d":34.5,"v":0.56,"c":"p"},{"d":35,"v":0.38,"c":"r"},{"d":35.5,"v":0.44,"c":"p"},{"d":36,"v":0.32,"c":"r"},{"d":36.5,"v":0.4,"c":"p"},{"d":37,"v":0.3,"c":"r"},{"d":37.5,"v":0.36,"c":"r"},{"d":38,"v":0.26,"c":"b"},{"d":38.5,"v":0.34,"c":"r"},{"d":39,"v":0.4,"c":"r"},{"d":39.5,"v":0.28,"c":"b"},{"d":40,"v":0.34,"c":"b"},{"d":40.5,"v":0.24,"c":"b"},{"d":41,"v":0.3,"c":"b"},{"d":41.5,"v":0.2,"c":"b"},{"d":42,"v":0.28,"c":"b"},{"d":42.5,"v":0.34,"c":"b"},{"d":43,"v":0.24,"c":"b"},{"d":43.5,"v":0.3,"c":"b"},{"d":44,"v":0.38,"c":"b"},{"d":44.5,"v":0.28,"c":"b"},{"d":45,"v":0.34,"c":"b"},{"d":45.5,"v":0.26,"c":"b"},{"d":46,"v":0.32,"c":"b"},{"d":46.5,"v":0.22,"c":"b"},{"d":47,"v":0.3,"c":"b"},{"d":47.5,"v":0.36,"c":"b"},{"d":48,"v":0.26,"c":"b"},{"d":48.5,"v":0.32,"c":"b"},{"d":49,"v":0.24,"c":"b"},{"d":49.5,"v":0.3,"c":"b"},{"d":50,"v":0.36,"c":"r"},{"d":50.5,"v":0.28,"c":"b"},{"d":51,"v":0.34,"c":"r"},{"d":51.5,"v":0.42,"c":"r"},{"d":52,"v":0.32,"c":"r"},{"d":52.5,"v":0.46,"c":"r"},{"d":53,"v":0.38,"c":"r"},{"d":53.5,"v":0.5,"c":"r"},{"d":54,"v":0.42,"c":"r"},{"d":54.5,"v":0.56,"c":"r"},{"d":55,"v":0.46,"c":"r"},{"d":55.5,"v":0.52,"c":"r"},{"d":56,"v":0.4,"c":"r"},{"d":56.5,"v":0.48,"c":"r"},{"d":57,"v":0.36,"c":"r"},{"d":57.5,"v":0.44,"c":"r"},{"d":58,"v":0.32,"c":"r"},{"d":58.5,"v":0.4,"c":"r"},{"d":59,"v":0.3,"c":"r"},{"d":59.5,"v":0.24,"c":"b"},{"d":60,"v":0.3,"c":"r"},{"d":60.5,"v":0.22,"c":"b"},{"d":61,"v":0.28,"c":"p"},{"d":61.5,"v":0.36,"c":"r"},{"d":62,"v":0.26,"c":"p"},{"d":62.5,"v":0.32,"c":"r"},{"d":63,"v":0.4,"c":"r"},{"d":63.5,"v":0.3,"c":"p"},{"d":64,"v":0.24,"c":"b"},{"d":64.5,"v":0.34,"c":"r"},{"d":65,"v":0.42,"c":"p"},{"d":65.5,"v":0.3,"c":"r"},{"d":66,"v":0.22,"c":"b"},{"d":66.5,"v":0.32,"c":"r"},{"d":67,"v":0.38,"c":"p"},{"d":67.5,"v":0.26,"c":"r"},{"d":68,"v":0.2,"c":"b"},{"d":68.5,"v":0.3,"c":"g"},{"d":69,"v":0.24,"c":"g"},{"d":69.5,"v":0.34,"c":"g"},{"d":70,"v":0.28,"c":"g"},{"d":70.5,"v":0.2,"c":"b"},{"d":71,"v":0.3,"c":"g"},{"d":71.5,"v":0.24,"c":"b"},{"d":72,"v":0.18,"c":"g"},{"d":72.5,"v":0.26,"c":"b"},{"d":73,"v":0.32,"c":"b"},{"d":73.5,"v":0.22,"c":"g"},{"d":74,"v":0.16,"c":"b"},{"d":74.5,"v":0.24,"c":"c"},{"d":75,"v":0.3,"c":"b"},{"d":75.5,"v":0.2,"c":"c"},{"d":76,"v":0.26,"c":"b"},{"d":76.5,"v":0.34,"c":"b"},{"d":77,"v":0.22,"c":"g"},{"d":77.5,"v":0.28,"c":"b"},{"d":78,"v":0.18,"c":"c"},{"d":78.5,"v":0.24,"c":"b"},{"d":79,"v":0.3,"c":"b"},{"d":79.5,"v":0.2,"c":"g"},{"d":80,"v":0.14,"c":"b"},{"d":80.5,"v":0.22,"c":"c"},{"d":81,"v":0.28,"c":"b"},{"d":81.5,"v":0.18,"c":"g"},{"d":82,"v":0.12,"c":"b"},{"d":82.5,"v":0.2,"c":"r"},{"d":83,"v":0.26,"c":"p"},{"d":83.5,"v":0.16,"c":"r"},{"d":84,"v":0.22,"c":"b"},{"d":84.5,"v":0.3,"c":"p"},{"d":85,"v":0.18,"c":"r"},{"d":85.5,"v":0.26,"c":"p"},{"d":86,"v":0.34,"c":"r"},{"d":86.5,"v":0.22,"c":"p"},{"d":87,"v":0.16,"c":"b"},{"d":87.5,"v":0.26,"c":"r"},{"d":88,"v":0.32,"c":"p"},{"d":88.5,"v":0.2,"c":"r"},{"d":89,"v":0.28,"c":"p"},{"d":89.5,"v":0.36,"c":"r"},{"d":90,"v":0.24,"c":"p"},{"d":90.5,"v":0.3,"c":"r"}],
"b11":[{"d":0,"v":0.3,"c":"b"},{"d":0.5,"v":0.2,"c":"b"},{"d":1,"v":0.26,"c":"r"},{"d":1.5,"v":0.16,"c":"b"},{"d":2,"v":0.22,"c":"b"},{"d":2.5,"v":0.3,"c":"r"},{"d":3,"v":0.18,"c":"b"},{"d":3.5,"v":0.12,"c":"b"},{"d":4,"v":0.2,"c":"r"},{"d":4.5,"v":0.26,"c":"b"},{"d":5,"v":0.16,"c":"b"},{"d":5.5,"v":0.22,"c":"r"},{"d":6,"v":0.12,"c":"r"},{"d":6.5,"v":0.18,"c":"b"},{"d":7,"v":0.24,"c":"r"},{"d":7.5,"v":0.14,"c":"r"},{"d":8,"v":0.2,"c":"b"},{"d":8.5,"v":0.28,"c":"r"},{"d":9,"v":0.18,"c":"r"},{"d":9.5,"v":0.34,"c":"r"},{"d":10,"v":0.24,"c":"b"},{"d":10.5,"v":0.4,"c":"r"},{"d":11,"v":0.3,"c":"r"},{"d":11.5,"v":0.46,"c":"r"},{"d":12,"v":0.36,"c":"r"},{"d":12.5,"v":0.26,"c":"b"},{"d":13,"v":0.42,"c":"r"},{"d":13.5,"v":0.5,"c":"r"},{"d":14,"v":0.34,"c":"r"},{"d":14.5,"v":0.44,"c":"r"},{"d":15,"v":0.3,"c":"b"},{"d":15.5,"v":0.52,"c":"r"},{"d":16,"v":0.38,"c":"r"},{"d":16.5,"v":0.46,"c":"r"},{"d":17,"v":0.28,"c":"r"},{"d":17.5,"v":0.4,"c":"r"},{"d":18,"v":0.56,"c":"r"},{"d":18.5,"v":0.36,"c":"r"},{"d":19,"v":0.48,"c":"r"},{"d":19.5,"v":0.3,"c":"b"},{"d":20,"v":0.42,"c":"r"},{"d":20.5,"v":0.52,"c":"r"},{"d":21,"v":0.34,"c":"r"},{"d":21.5,"v":0.44,"c":"r"},{"d":22,"v":0.24,"c":"b"},{"d":22.5,"v":0.38,"c":"r"},{"d":23,"v":0.5,"c":"r"},{"d":23.5,"v":0.32,"c":"r"},{"d":24,"v":0.42,"c":"r"},{"d":24.5,"v":0.2,"c":"b"},{"d":25,"v":0.34,"c":"b"},{"d":25.5,"v":0.46,"c":"r"},{"d":26,"v":0.28,"c":"b"},{"d":26.5,"v":0.38,"c":"r"},{"d":27,"v":0.22,"c":"b"},{"d":27.5,"v":0.3,"c":"r"},{"d":28,"v":0.16,"c":"b"},{"d":30,"v":0.3,"c":"r"},{"d":30.5,"v":0.2,"c":"r"},{"d":31,"v":0.36,"c":"b"},{"d":31.5,"v":0.14,"c":"b"},{"d":32,"v":0.28,"c":"r"},{"d":32.5,"v":0.4,"c":"r"},{"d":33,"v":0.22,"c":"b"},{"d":33.5,"v":0.34,"c":"r"},{"d":34,"v":0.12,"c":"r"},{"d":34.5,"v":0.26,"c":"b"},{"d":35,"v":0.38,"c":"r"},{"d":35.5,"v":0.2,"c":"b"},{"d":36,"v":0.3,"c":"r"},{"d":36.5,"v":0.42,"c":"p"},{"d":37,"v":0.24,"c":"r"},{"d":37.5,"v":0.34,"c":"b"},{"d":38,"v":0.18,"c":"r"},{"d":38.5,"v":0.28,"c":"b"},{"d":39,"v":0.4,"c":"r"},{"d":39.5,"v":0.3,"c":"b"},{"d":40,"v":0.22,"c":"r"},{"d":40.5,"v":0.36,"c":"r"},{"d":41,"v":0.46,"c":"r"},{"d":41.5,"v":0.3,"c":"b"},{"d":42,"v":0.4,"c":"r"},{"d":42.5,"v":0.5,"c":"r"},{"d":43,"v":0.7,"c":"b"},{"d":43.5,"v":0.36,"c":"r"},{"d":44,"v":0.44,"c":"b"},{"d":44.5,"v":0.3,"c":"r"},{"d":45,"v":0.4,"c":"r"},{"d":45.5,"v":0.52,"c":"r"},{"d":46,"v":0.36,"c":"b"},{"d":46.5,"v":0.44,"c":"r"},{"d":47,"v":0.26,"c":"r"},{"d":47.5,"v":0.34,"c":"b"},{"d":48,"v":0.2,"c":"b"},{"d":48.5,"v":0.3,"c":"r"},{"d":49,"v":0.4,"c":"b"},{"d":49.5,"v":0.24,"c":"b"},{"d":50,"v":0.34,"c":"b"},{"d":50.5,"v":0.2,"c":"b"},{"d":51,"v":0.28,"c":"p"},{"d":51.5,"v":0.16,"c":"b"},{"d":52,"v":0.24,"c":"p"},{"d":52.5,"v":0.32,"c":"p"},{"d":53,"v":0.2,"c":"r"},{"d":53.5,"v":0.28,"c":"p"},{"d":54,"v":0.14,"c":"b"},{"d":54.5,"v":0.22,"c":"p"},{"d":55,"v":0.3,"c":"p"},{"d":55.5,"v":0.18,"c":"b"},{"d":56,"v":0.26,"c":"p"},{"d":56.5,"v":0.34,"c":"p"},{"d":57,"v":0.2,"c":"b"},{"d":57.5,"v":0.12,"c":"c"},{"d":58,"v":0.18,"c":"g"},{"d":58.5,"v":0.1,"c":"c"},{"d":59,"v":0.16,"c":"g"},{"d":59.5,"v":0.08,"c":"c"},{"d":60,"v":0.14,"c":"g"},{"d":60.5,"v":0.06,"c":"b"},{"d":61,"v":0.12,"c":"c"},{"d":61.5,"v":0.18,"c":"b"},{"d":62,"v":0.1,"c":"r"},{"d":62.5,"v":0.16,"c":"b"},{"d":63,"v":0.22,"c":"r"},{"d":63.5,"v":0.14,"c":"b"},{"d":64,"v":0.24,"c":"r"},{"d":64.5,"v":0.3,"c":"r"},{"d":65,"v":0.2,"c":"b"},{"d":65.5,"v":0.28,"c":"r"},{"d":66,"v":0.36,"c":"r"},{"d":66.5,"v":0.26,"c":"b"},{"d":67,"v":0.34,"c":"r"},{"d":67.5,"v":0.4,"c":"r"},{"d":68,"v":0.28,"c":"r"},{"d":68.5,"v":0.34,"c":"b"},{"d":69,"v":0.22,"c":"r"},{"d":69.5,"v":0.32,"c":"r"},{"d":70,"v":0.38,"c":"r"},{"d":70.5,"v":0.26,"c":"b"},{"d":71,"v":0.34,"c":"r"},{"d":71.5,"v":0.42,"c":"b"},{"d":72,"v":0.3,"c":"b"},{"d":72.5,"v":0.36,"c":"r"},{"d":73,"v":0.24,"c":"b"},{"d":73.5,"v":0.32,"c":"b"},{"d":74,"v":0.2,"c":"r"},{"d":74.5,"v":0.28,"c":"b"},{"d":75,"v":0.14,"c":"b"},{"d":75.5,"v":0.22,"c":"b"},{"d":76,"v":0.3,"c":"r"},{"d":76.5,"v":0.18,"c":"b"},{"d":77,"v":0.26,"c":"b"},{"d":77.5,"v":0.34,"c":"r"},{"d":78,"v":0.22,"c":"b"},{"d":78.5,"v":0.14,"c":"r"},{"d":79,"v":0.2,"c":"b"},{"d":79.5,"v":0.28,"c":"b"},{"d":80,"v":0.16,"c":"r"},{"d":80.5,"v":0.24,"c":"b"},{"d":81,"v":0.3,"c":"r"},{"d":81.5,"v":0.2,"c":"b"},{"d":82,"v":0.14,"c":"r"},{"d":82.5,"v":0.22,"c":"r"},{"d":83,"v":0.28,"c":"b"},{"d":83.5,"v":0.18,"c":"r"},{"d":84,"v":0.26,"c":"r"},{"d":84.5,"v":0.32,"c":"r"},{"d":85,"v":0.2,"c":"b"},{"d":85.5,"v":0.28,"c":"r"},{"d":86,"v":0.36,"c":"r"},{"d":86.5,"v":0.24,"c":"r"},{"d":87,"v":0.3,"c":"b"},{"d":87.5,"v":0.38,"c":"r"},{"d":88,"v":0.28,"c":"r"},{"d":88.5,"v":0.34,"c":"r"},{"d":89,"v":0.42,"c":"r"},{"d":89.5,"v":0.3,"c":"b"},{"d":90,"v":0.38,"c":"r"},{"d":90.5,"v":0.46,"c":"r"},{"d":91,"v":0.34,"c":"r"},{"d":91.5,"v":0.44,"c":"r"}],
"b12":[{"d":0,"v":0.28,"c":"b"},{"d":0.5,"v":0.2,"c":"b"},{"d":1,"v":0.34,"c":"b"},{"d":1.5,"v":0.26,"c":"b"},{"d":2,"v":0.4,"c":"b"},{"d":2.5,"v":0.32,"c":"b"},{"d":3,"v":0.44,"c":"b"},{"d":3.5,"v":0.36,"c":"b"},{"d":4,"v":0.5,"c":"b"},{"d":4.5,"v":0.42,"c":"b"},{"d":5,"v":0.6,"c":"b"},{"d":5.5,"v":0.46,"c":"b"},{"d":6,"v":0.38,"c":"b"},{"d":6.5,"v":0.48,"c":"b"},{"d":7,"v":0.34,"c":"b"},{"d":7.5,"v":0.42,"c":"b"},{"d":8,"v":0.3,"c":"b"},{"d":8.5,"v":0.4,"c":"b"},{"d":9,"v":0.48,"c":"b"},{"d":9.5,"v":0.36,"c":"b"},{"d":10,"v":0.44,"c":"b"},{"d":10.5,"v":0.32,"c":"b"},{"d":11,"v":0.4,"c":"b"},{"d":11.5,"v":0.5,"c":"b"},{"d":12,"v":0.38,"c":"b"},{"d":12.5,"v":0.46,"c":"b"},{"d":13,"v":0.34,"c":"b"},{"d":13.5,"v":0.42,"c":"b"},{"d":14,"v":0.52,"c":"b"},{"d":14.5,"v":0.38,"c":"b"},{"d":15,"v":0.3,"c":"b"},{"d":15.5,"v":0.4,"c":"b"},{"d":16,"v":0.28,"c":"b"},{"d":16.5,"v":0.36,"c":"b"},{"d":17,"v":0.24,"c":"b"},{"d":17.5,"v":0.32,"c":"b"},{"d":18,"v":0.22,"c":"b"},{"d":18.5,"v":0.3,"c":"b"},{"d":19,"v":0.2,"c":"r"},{"d":19.5,"v":0.26,"c":"b"},{"d":20,"v":0.16,"c":"b"},{"d":20.5,"v":0.24,"c":"p"},{"d":21,"v":0.14,"c":"b"},{"d":21.5,"v":0.22,"c":"r"},{"d":22,"v":0.3,"c":"p"},{"d":22.5,"v":0.18,"c":"b"},{"d":23,"v":0.26,"c":"r"},{"d":23.5,"v":0.14,"c":"b"},{"d":24,"v":0.22,"c":"p"},{"d":24.5,"v":0.32,"c":"r"},{"d":25,"v":0.2,"c":"b"},{"d":25.5,"v":0.28,"c":"p"},{"d":26,"v":0.16,"c":"b"},{"d":26.5,"v":0.24,"c":"r"},{"d":27,"v":0.34,"c":"p"},{"d":27.5,"v":0.18,"c":"b"},{"d":28,"v":0.26,"c":"r"},{"d":28.5,"v":0.14,"c":"g"},{"d":29,"v":0.22,"c":"b"},{"d":29.5,"v":0.3,"c":"r"},{"d":30,"v":0.2,"c":"b"},{"d":30.5,"v":0.36,"c":"r"},{"d":31,"v":0.44,"c":"r"},{"d":31.5,"v":0.3,"c":"r"},{"d":32,"v":0.48,"c":"r"},{"d":32.5,"v":0.38,"c":"r"},{"d":33,"v":0.28,"c":"b"},{"d":33.5,"v":0.36,"c":"r"},{"d":34,"v":0.24,"c":"b"},{"d":34.5,"v":0.3,"c":"b"},{"d":35,"v":0.2,"c":"b"},{"d":35.5,"v":0.28,"c":"b"},{"d":36,"v":0.22,"c":"b"},{"d":36.5,"v":0.32,"c":"r"},{"d":37,"v":0.26,"c":"b"},{"d":37.5,"v":0.36,"c":"p"},{"d":38,"v":0.3,"c":"b"},{"d":38.5,"v":0.4,"c":"r"},{"d":39,"v":0.28,"c":"b"},{"d":39.5,"v":0.36,"c":"b"},{"d":40,"v":0.44,"c":"r"},{"d":40.5,"v":0.3,"c":"b"},{"d":41,"v":0.38,"c":"p"},{"d":41.5,"v":0.26,"c":"b"},{"d":42,"v":0.34,"c":"r"},{"d":42.5,"v":0.42,"c":"r"},{"d":43,"v":0.3,"c":"b"},{"d":43.5,"v":0.38,"c":"p"},{"d":44,"v":0.26,"c":"b"},{"d":44.5,"v":0.34,"c":"r"},{"d":45,"v":0.44,"c":"p"},{"d":45.5,"v":0.3,"c":"r"},{"d":46,"v":0.4,"c":"r"},{"d":46.5,"v":0.28,"c":"p"},{"d":47,"v":0.36,"c":"r"},{"d":47.5,"v":0.24,"c":"b"},{"d":48,"v":0.32,"c":"p"},{"d":48.5,"v":0.42,"c":"r"},{"d":49,"v":0.3,"c":"r"},{"d":49.5,"v":0.38,"c":"p"},{"d":50,"v":0.46,"c":"r"},{"d":50.5,"v":0.34,"c":"r"},{"d":51,"v":0.42,"c":"p"},{"d":51.5,"v":0.3,"c":"r"},{"d":52,"v":0.38,"c":"r"},{"d":52.5,"v":0.48,"c":"r"},{"d":53,"v":0.36,"c":"p"},{"d":53.5,"v":0.44,"c":"r"},{"d":54,"v":0.52,"c":"r"},{"d":54.5,"v":0.4,"c":"r"},{"d":55,"v":0.48,"c":"p"},{"d":55.5,"v":0.36,"c":"r"},{"d":56,"v":0.56,"c":"r"},{"d":56.5,"v":0.64,"c":"r"},{"d":57,"v":0.7,"c":"r"},{"d":57.5,"v":0.58,"c":"r"},{"d":58,"v":0.66,"c":"r"},{"d":58.5,"v":0.5,"c":"r"},{"d":59,"v":0.56,"c":"r"},{"d":59.5,"v":0.42,"c":"r"},{"d":60,"v":0.36,"c":"b"},{"d":60.5,"v":0.28,"c":"b"},{"d":61,"v":0.22,"c":"b"},{"d":61.5,"v":0.3,"c":"b"},{"d":62,"v":0.18,"c":"b"},{"d":62.5,"v":0.26,"c":"b"},{"d":63,"v":0.14,"c":"b"},{"d":63.5,"v":0.22,"c":"b"},{"d":64,"v":0.3,"c":"b"},{"d":64.5,"v":0.2,"c":"b"},{"d":65,"v":0.26,"c":"b"},{"d":65.5,"v":0.16,"c":"b"},{"d":66,"v":0.24,"c":"b"},{"d":66.5,"v":0.3,"c":"b"},{"d":67,"v":0.2,"c":"b"},{"d":67.5,"v":0.28,"c":"b"},{"d":68,"v":0.34,"c":"b"},{"d":68.5,"v":0.22,"c":"b"},{"d":69,"v":0.3,"c":"b"},{"d":69.5,"v":0.18,"c":"b"},{"d":70,"v":0.26,"c":"b"},{"d":70.5,"v":0.2,"c":"r"},{"d":71,"v":0.28,"c":"b"},{"d":71.5,"v":0.16,"c":"b"},{"d":72,"v":0.24,"c":"b"},{"d":72.5,"v":0.3,"c":"b"},{"d":73,"v":0.2,"c":"b"},{"d":73.5,"v":0.14,"c":"b"},{"d":74,"v":0.22,"c":"b"},{"d":74.5,"v":0.28,"c":"b"},{"d":75,"v":0.18,"c":"b"},{"d":75.5,"v":0.24,"c":"b"},{"d":76,"v":0.12,"c":"b"},{"d":76.5,"v":0.2,"c":"b"},{"d":77,"v":0.26,"c":"b"},{"d":77.5,"v":0.16,"c":"r"},{"d":78,"v":0.22,"c":"b"},{"d":78.5,"v":0.1,"c":"b"},{"d":79,"v":0.18,"c":"r"},{"d":79.5,"v":0.12,"c":"g"},{"d":80,"v":0.08,"c":"g"},{"d":80.5,"v":0.14,"c":"b"},{"d":81,"v":0.1,"c":"g"},{"d":81.5,"v":0.18,"c":"b"},{"d":82,"v":0.24,"c":"b"},{"d":82.5,"v":0.14,"c":"b"},{"d":83,"v":0.2,"c":"r"},{"d":83.5,"v":0.28,"c":"b"},{"d":84,"v":0.18,"c":"b"},{"d":84.5,"v":0.24,"c":"b"},{"d":85,"v":0.3,"c":"b"},{"d":85.5,"v":0.22,"c":"b"},{"d":86,"v":0.28,"c":"b"},{"d":86.5,"v":0.34,"c":"b"},{"d":87,"v":0.26,"c":"b"},{"d":87.5,"v":0.32,"c":"b"},{"d":88,"v":0.4,"c":"b"},{"d":88.5,"v":0.3,"c":"b"},{"d":89,"v":0.36,"c":"b"},{"d":89.5,"v":0.28,"c":"b"},{"d":90,"v":0.34,"c":"b"},{"d":90.5,"v":0.42,"c":"b"},{"d":91,"v":0.32,"c":"b"},{"d":91.5,"v":0.38,"c":"b"}],
"b13":[{"d":0,"v":0.08,"c":"b"},{"d":0.5,"v":0.14,"c":"g"},{"d":1,"v":0.06,"c":"c"},{"d":1.5,"v":0.12,"c":"g"},{"d":2,"v":0.2,"c":"g"},{"d":2.5,"v":0.1,"c":"c"},{"d":3,"v":0.16,"c":"g"},{"d":3.5,"v":0.24,"c":"g"},{"d":4,"v":0.14,"c":"b"},{"d":4.5,"v":0.2,"c":"g"},{"d":5,"v":0.28,"c":"g"},{"d":5.5,"v":0.16,"c":"c"},{"d":6,"v":0.22,"c":"g"},{"d":6.5,"v":0.12,"c":"g"},{"d":7,"v":0.26,"c":"g"},{"d":7.5,"v":0.18,"c":"b"},{"d":8,"v":0.24,"c":"g"},{"d":8.5,"v":0.3,"c":"g"},{"d":9,"v":0.2,"c":"c"},{"d":9.5,"v":0.26,"c":"g"},{"d":10,"v":0.16,"c":"g"},{"d":10.5,"v":0.22,"c":"b"},{"d":11,"v":0.3,"c":"g"},{"d":11.5,"v":0.18,"c":"g"},{"d":12,"v":0.24,"c":"g"},{"d":12.5,"v":0.14,"c":"c"},{"d":13,"v":0.2,"c":"g"},{"d":13.5,"v":0.28,"c":"g"},{"d":14,"v":0.18,"c":"g"},{"d":14.5,"v":0.24,"c":"b"},{"d":15,"v":0.3,"c":"g"},{"d":15.5,"v":0.2,"c":"g"},{"d":16,"v":0.26,"c":"g"},{"d":16.5,"v":0.34,"c":"g"},{"d":17,"v":0.22,"c":"g"},{"d":17.5,"v":0.28,"c":"g"},{"d":18,"v":0.16,"c":"g"},{"d":18.5,"v":0.24,"c":"c"},{"d":19,"v":0.32,"c":"g"},{"d":19.5,"v":0.2,"c":"g"},{"d":20,"v":0.28,"c":"g"},{"d":20.5,"v":0.36,"c":"g"},{"d":21,"v":0.24,"c":"g"},{"d":21.5,"v":0.3,"c":"g"},{"d":22,"v":0.18,"c":"c"},{"d":22.5,"v":0.4,"c":"g"},{"d":23,"v":0.5,"c":"g"},{"d":23.5,"v":0.36,"c":"g"},{"d":24,"v":0.6,"c":"g"},{"d":24.5,"v":0.72,"c":"g"},{"d":25,"v":0.88,"c":"g"},{"d":25.5,"v":0.8,"c":"g"},{"d":26,"v":0.52,"c":"b"},{"d":26.5,"v":0.4,"c":"b"},{"d":27,"v":0.56,"c":"b"},{"d":27.5,"v":0.46,"c":"b"},{"d":28,"v":0.6,"c":"b"},{"d":28.5,"v":0.5,"c":"b"},{"d":29,"v":0.44,"c":"b"},{"d":29.5,"v":0.36,"c":"b"},{"d":30,"v":0.28,"c":"c"},{"d":30.5,"v":0.22,"c":"c"},{"d":31,"v":0.34,"c":"r"},{"d":31.5,"v":0.28,"c":"r"},{"d":32,"v":0.38,"c":"r"},{"d":32.5,"v":0.3,"c":"b"},{"d":33,"v":0.24,"c":"b"},{"d":33.5,"v":0.32,"c":"b"},{"d":34,"v":0.2,"c":"b"},{"d":34.5,"v":0.28,"c":"b"},{"d":35,"v":0.36,"c":"b"},{"d":35.5,"v":0.24,"c":"b"},{"d":36,"v":0.18,"c":"b"},{"d":36.5,"v":0.28,"c":"b"},{"d":37,"v":0.34,"c":"b"},{"d":37.5,"v":0.22,"c":"b"},{"d":38,"v":0.16,"c":"b"},{"d":38.5,"v":0.26,"c":"b"},{"d":39,"v":0.32,"c":"b"},{"d":39.5,"v":0.2,"c":"b"},{"d":40,"v":0.28,"c":"b"},{"d":40.5,"v":0.22,"c":"b"},{"d":41,"v":0.3,"c":"b"},{"d":41.5,"v":0.24,"c":"b"},{"d":42,"v":0.18,"c":"b"},{"d":42.5,"v":0.26,"c":"b"},{"d":43,"v":0.32,"c":"b"},{"d":43.5,"v":0.22,"c":"b"},{"d":44,"v":0.28,"c":"b"},{"d":44.5,"v":0.2,"c":"b"},{"d":45,"v":0.3,"c":"g"},{"d":45.5,"v":0.24,"c":"r"},{"d":46,"v":0.34,"c":"r"},{"d":46.5,"v":0.28,"c":"r"},{"d":47,"v":0.36,"c":"r"},{"d":47.5,"v":0.26,"c":"r"},{"d":48,"v":0.32,"c":"r"},{"d":48.5,"v":0.22,"c":"b"},{"d":49,"v":0.28,"c":"b"},{"d":49.5,"v":0.2,"c":"b"},{"d":50,"v":0.26,"c":"b"},{"d":50.5,"v":0.32,"c":"b"},{"d":51,"v":0.22,"c":"b"},{"d":51.5,"v":0.28,"c":"b"},{"d":52,"v":0.18,"c":"b"},{"d":52.5,"v":0.26,"c":"b"},{"d":53,"v":0.3,"c":"b"},{"d":53.5,"v":0.22,"c":"b"},{"d":54,"v":0.28,"c":"b"},{"d":54.5,"v":0.34,"c":"b"},{"d":55,"v":0.24,"c":"b"},{"d":55.5,"v":0.3,"c":"b"},{"d":56,"v":0.2,"c":"b"},{"d":56.5,"v":0.28,"c":"b"},{"d":57,"v":0.34,"c":"b"},{"d":57.5,"v":0.24,"c":"b"},{"d":58,"v":0.3,"c":"b"},{"d":58.5,"v":0.36,"c":"b"},{"d":59,"v":0.26,"c":"b"},{"d":59.5,"v":0.2,"c":"b"},{"d":60,"v":0.28,"c":"b"},{"d":60.5,"v":0.18,"c":"b"},{"d":61,"v":0.24,"c":"p"},{"d":61.5,"v":0.14,"c":"b"},{"d":62,"v":0.2,"c":"b"},{"d":62.5,"v":0.12,"c":"p"},{"d":63,"v":0.18,"c":"b"},{"d":63.5,"v":0.1,"c":"b"},{"d":64,"v":0.16,"c":"p"},{"d":64.5,"v":0.08,"c":"b"},{"d":65,"v":0.14,"c":"b"},{"d":65.5,"v":0.1,"c":"p"},{"d":66,"v":0.06,"c":"b"},{"d":66.5,"v":0.12,"c":"b"},{"d":67,"v":0.08,"c":"p"},{"d":67.5,"v":0.14,"c":"b"},{"d":68,"v":0.1,"c":"b"},{"d":68.5,"v":0.16,"c":"g"},{"d":69,"v":0.12,"c":"b"},{"d":69.5,"v":0.18,"c":"g"},{"d":70,"v":0.14,"c":"c"},{"d":70.5,"v":0.2,"c":"g"},{"d":71,"v":0.16,"c":"b"},{"d":71.5,"v":0.22,"c":"g"},{"d":72,"v":0.18,"c":"c"},{"d":72.5,"v":0.26,"c":"g"},{"d":73,"v":0.2,"c":"b"},{"d":73.5,"v":0.28,"c":"g"},{"d":74,"v":0.22,"c":"c"},{"d":74.5,"v":0.3,"c":"b"},{"d":75,"v":0.24,"c":"g"},{"d":75.5,"v":0.18,"c":"c"},{"d":76,"v":0.26,"c":"b"},{"d":76.5,"v":0.34,"c":"g"},{"d":77,"v":0.22,"c":"c"},{"d":77.5,"v":0.28,"c":"b"},{"d":78,"v":0.2,"c":"g"},{"d":78.5,"v":0.3,"c":"c"},{"d":79,"v":0.24,"c":"b"},{"d":79.5,"v":0.32,"c":"g"},{"d":80,"v":0.26,"c":"c"},{"d":80.5,"v":0.36,"c":"b"},{"d":81,"v":0.28,"c":"g"},{"d":81.5,"v":0.22,"c":"c"},{"d":82,"v":0.3,"c":"b"},{"d":82.5,"v":0.38,"c":"b"},{"d":83,"v":0.28,"c":"c"},{"d":83.5,"v":0.34,"c":"b"},{"d":84,"v":0.4,"c":"b"},{"d":84.5,"v":0.3,"c":"b"},{"d":85,"v":0.36,"c":"b"},{"d":85.5,"v":0.44,"c":"b"},{"d":86,"v":0.34,"c":"b"},{"d":86.5,"v":0.4,"c":"b"},{"d":87,"v":0.48,"c":"b"},{"d":87.5,"v":0.38,"c":"b"},{"d":88,"v":0.44,"c":"b"},{"d":88.5,"v":0.34,"c":"b"},{"d":89,"v":0.42,"c":"b"},{"d":89.5,"v":0.5,"c":"b"},{"d":90,"v":0.4,"c":"b"},{"d":90.5,"v":0.46,"c":"b"},{"d":91,"v":0.52,"c":"b"},{"d":91.5,"v":0.44,"c":"b"}],
"b14":[{"d":0,"v":0.12,"c":"b"},{"d":0.5,"v":0.2,"c":"b"},{"d":1,"v":0.14,"c":"b"},{"d":1.5,"v":0.22,"c":"b"},{"d":2,"v":0.16,"c":"b"},{"d":2.5,"v":0.26,"c":"b"},{"d":3,"v":0.18,"c":"b"},{"d":3.5,"v":0.28,"c":"b"},{"d":4,"v":0.2,"c":"b"},{"d":4.5,"v":0.14,"c":"b"},{"d":5,"v":0.24,"c":"b"},{"d":5.5,"v":0.34,"c":"b"},{"d":6,"v":0.22,"c":"b"},{"d":6.5,"v":0.3,"c":"b"},{"d":7,"v":0.2,"c":"c"},{"d":7.5,"v":0.28,"c":"b"},{"d":8,"v":0.36,"c":"b"},{"d":8.5,"v":0.26,"c":"b"},{"d":9,"v":0.32,"c":"b"},{"d":9.5,"v":0.22,"c":"b"},{"d":10,"v":0.3,"c":"b"},{"d":10.5,"v":0.38,"c":"b"},{"d":11,"v":0.28,"c":"b"},{"d":11.5,"v":0.34,"c":"b"},{"d":12,"v":0.46,"c":"c"},{"d":12.5,"v":0.6,"c":"c"},{"d":13,"v":0.8,"c":"c"},{"d":13.5,"v":0.58,"c":"c"},{"d":14,"v":0.44,"c":"b"},{"d":14.5,"v":0.36,"c":"b"},{"d":15,"v":0.46,"c":"b"},{"d":15.5,"v":0.38,"c":"b"},{"d":16,"v":0.5,"c":"b"},{"d":16.5,"v":0.42,"c":"b"},{"d":17,"v":0.34,"c":"b"},{"d":17.5,"v":0.46,"c":"b"},{"d":18,"v":0.54,"c":"b"},{"d":18.5,"v":0.4,"c":"b"},{"d":19,"v":0.5,"c":"b"},{"d":19.5,"v":0.58,"c":"b"},{"d":20,"v":0.44,"c":"b"},{"d":20.5,"v":0.52,"c":"b"},{"d":21,"v":0.6,"c":"b"},{"d":21.5,"v":0.48,"c":"b"},{"d":22,"v":0.56,"c":"b"},{"d":22.5,"v":0.66,"c":"b"},{"d":23,"v":0.5,"c":"b"},{"d":23.5,"v":0.6,"c":"b"},{"d":24,"v":0.54,"c":"b"},{"d":24.5,"v":0.44,"c":"b"},{"d":25,"v":0.52,"c":"b"},{"d":25.5,"v":0.4,"c":"b"},{"d":26,"v":0.48,"c":"b"},{"d":26.5,"v":0.36,"c":"b"},{"d":27,"v":0.42,"c":"b"},{"d":27.5,"v":0.32,"c":"b"},{"d":28,"v":0.38,"c":"b"},{"d":28.5,"v":0.28,"c":"b"},{"d":29,"v":0.34,"c":"b"},{"d":29.5,"v":0.26,"c":"b"},{"d":30,"v":0.32,"c":"b"},{"d":30.5,"v":0.24,"c":"b"},{"d":31,"v":0.3,"c":"b"},{"d":31.5,"v":0.22,"c":"b"},{"d":32,"v":0.28,"c":"r"},{"d":32.5,"v":0.34,"c":"b"},{"d":33,"v":0.24,"c":"b"},{"d":33.5,"v":0.3,"c":"r"},{"d":34,"v":0.2,"c":"b"},{"d":34.5,"v":0.28,"c":"b"},{"d":35,"v":0.34,"c":"r"},{"d":35.5,"v":0.24,"c":"b"},{"d":36,"v":0.3,"c":"b"},{"d":36.5,"v":0.2,"c":"r"},{"d":37,"v":0.26,"c":"b"},{"d":37.5,"v":0.32,"c":"p"},{"d":38,"v":0.22,"c":"b"},{"d":38.5,"v":0.28,"c":"r"},{"d":39,"v":0.18,"c":"b"},{"d":39.5,"v":0.26,"c":"r"},{"d":40,"v":0.32,"c":"b"},{"d":40.5,"v":0.22,"c":"r"},{"d":41,"v":0.28,"c":"b"},{"d":41.5,"v":0.2,"c":"r"},{"d":42,"v":0.26,"c":"r"},{"d":42.5,"v":0.16,"c":"b"},{"d":43,"v":0.24,"c":"r"},{"d":43.5,"v":0.3,"c":"r"},{"d":44,"v":0.2,"c":"b"},{"d":44.5,"v":0.26,"c":"r"},{"d":45,"v":0.18,"c":"r"},{"d":45.5,"v":0.24,"c":"r"},{"d":46,"v":0.3,"c":"r"},{"d":46.5,"v":0.2,"c":"r"},{"d":47,"v":0.26,"c":"p"},{"d":47.5,"v":0.16,"c":"r"},{"d":48,"v":0.22,"c":"r"},{"d":48.5,"v":0.28,"c":"r"},{"d":49,"v":0.18,"c":"r"},{"d":49.5,"v":0.24,"c":"r"},{"d":50,"v":0.3,"c":"r"},{"d":50.5,"v":0.22,"c":"b"},{"d":51,"v":0.28,"c":"r"},{"d":51.5,"v":0.2,"c":"b"},{"d":52,"v":0.34,"c":"b"},{"d":52.5,"v":0.4,"c":"r"},{"d":53,"v":0.46,"c":"r"},{"d":53.5,"v":0.52,"c":"r"},{"d":54,"v":0.58,"c":"r"},{"d":54.5,"v":0.62,"c":"r"},{"d":55,"v":0.5,"c":"r"},{"d":55.5,"v":0.4,"c":"r"},{"d":56,"v":0.3,"c":"r"},{"d":56.5,"v":0.22,"c":"r"},{"d":57,"v":0.14,"c":"c"},{"d":57.5,"v":0.1,"c":"r"},{"d":58,"v":0.06,"c":"c"},{"d":58.5,"v":0.12,"c":"r"},{"d":59,"v":0.08,"c":"c"},{"d":59.5,"v":0.04,"c":"r"},{"d":60,"v":0.1,"c":"r"},{"d":60.5,"v":0.06,"c":"c"},{"d":61,"v":0.12,"c":"r"},{"d":61.5,"v":0.16,"c":"b"},{"d":62,"v":0.1,"c":"b"},{"d":62.5,"v":0.18,"c":"b"},{"d":63,"v":0.22,"c":"r"},{"d":63.5,"v":0.14,"c":"b"},{"d":64,"v":0.2,"c":"b"},{"d":64.5,"v":0.28,"c":"b"},{"d":65,"v":0.18,"c":"b"},{"d":65.5,"v":0.26,"c":"r"},{"d":66,"v":0.32,"c":"b"},{"d":66.5,"v":0.22,"c":"b"},{"d":67,"v":0.3,"c":"b"},{"d":67.5,"v":0.2,"c":"b"},{"d":68,"v":0.26,"c":"b"},{"d":68.5,"v":0.34,"c":"b"},{"d":69,"v":0.24,"c":"b"},{"d":69.5,"v":0.3,"c":"b"},{"d":70,"v":0.22,"c":"b"},{"d":70.5,"v":0.28,"c":"b"},{"d":71,"v":0.2,"c":"b"},{"d":71.5,"v":0.26,"c":"r"},{"d":72,"v":0.32,"c":"b"},{"d":72.5,"v":0.24,"c":"b"},{"d":73,"v":0.3,"c":"r"},{"d":73.5,"v":0.22,"c":"b"},{"d":74,"v":0.28,"c":"r"},{"d":74.5,"v":0.34,"c":"r"},{"d":75,"v":0.24,"c":"r"},{"d":75.5,"v":0.3,"c":"r"},{"d":76,"v":0.36,"c":"r"},{"d":76.5,"v":0.26,"c":"b"},{"d":77,"v":0.32,"c":"r"},{"d":77.5,"v":0.24,"c":"r"},{"d":78,"v":0.3,"c":"b"},{"d":78.5,"v":0.36,"c":"r"},{"d":79,"v":0.26,"c":"r"},{"d":79.5,"v":0.32,"c":"b"},{"d":80,"v":0.22,"c":"r"},{"d":80.5,"v":0.28,"c":"b"},{"d":81,"v":0.2,"c":"b"},{"d":81.5,"v":0.26,"c":"r"},{"d":82,"v":0.16,"c":"b"},{"d":82.5,"v":0.24,"c":"b"},{"d":83,"v":0.3,"c":"r"},{"d":83.5,"v":0.2,"c":"b"},{"d":84,"v":0.14,"c":"b"},{"d":84.5,"v":0.22,"c":"r"},{"d":85,"v":0.28,"c":"b"},{"d":85.5,"v":0.18,"c":"b"},{"d":86,"v":0.24,"c":"r"},{"d":86.5,"v":0.14,"c":"b"},{"d":87,"v":0.2,"c":"b"},{"d":87.5,"v":0.26,"c":"b"},{"d":88,"v":0.16,"c":"r"},{"d":88.5,"v":0.22,"c":"b"},{"d":89,"v":0.3,"c":"b"},{"d":89.5,"v":0.2,"c":"b"},{"d":90,"v":0.34,"c":"b"},{"d":90.5,"v":0.24,"c":"r"},{"d":91,"v":0.18,"c":"b"},{"d":91.5,"v":0.26,"c":"b"}],
"b15":[{"d":0,"v":0.2,"c":"b"},{"d":0.5,"v":0.14,"c":"b"},{"d":1,"v":0.22,"c":"b"},{"d":1.5,"v":0.1,"c":"b"},{"d":2,"v":0.16,"c":"r"},{"d":2.5,"v":0.08,"c":"b"},{"d":3,"v":0.14,"c":"b"},{"d":3.5,"v":0.2,"c":"g"},{"d":4,"v":0.12,"c":"b"},{"d":4.5,"v":0.18,"c":"r"},{"d":5,"v":0.1,"c":"b"},{"d":5.5,"v":0.16,"c":"b"},{"d":6,"v":0.22,"c":"b"},{"d":6.5,"v":0.14,"c":"r"},{"d":7,"v":0.2,"c":"b"},{"d":7.5,"v":0.1,"c":"b"},{"d":8,"v":0.18,"c":"b"},{"d":8.5,"v":0.24,"c":"b"},{"d":9,"v":0.14,"c":"r"},{"d":9.5,"v":0.2,"c":"b"},{"d":10,"v":0.12,"c":"b"},{"d":10.5,"v":0.18,"c":"r"},{"d":11,"v":0.24,"c":"r"},{"d":11.5,"v":0.16,"c":"r"},{"d":12,"v":0.22,"c":"r"},{"d":12.5,"v":0.12,"c":"b"},{"d":13,"v":0.18,"c":"r"},{"d":13.5,"v":0.1,"c":"r"},{"d":14,"v":0.16,"c":"r"},{"d":14.5,"v":0.22,"c":"r"},{"d":15,"v":0.12,"c":"b"},{"d":15.5,"v":0.18,"c":"r"},{"d":16,"v":0.08,"c":"r"},{"d":16.5,"v":0.14,"c":"b"},{"d":17,"v":0.2,"c":"r"},{"d":17.5,"v":0.1,"c":"r"},{"d":18,"v":0.16,"c":"b"},{"d":18.5,"v":0.12,"c":"r"},{"d":19,"v":0.18,"c":"r"},{"d":19.5,"v":0.08,"c":"b"},{"d":20,"v":0.14,"c":"g"},{"d":20.5,"v":0.22,"c":"g"},{"d":21,"v":0.3,"c":"g"},{"d":21.5,"v":0.18,"c":"b"},{"d":22,"v":0.24,"c":"g"},{"d":22.5,"v":0.14,"c":"r"},{"d":23,"v":0.2,"c":"g"},{"d":23.5,"v":0.28,"c":"g"},{"d":24,"v":0.16,"c":"b"},{"d":24.5,"v":0.22,"c":"g"},{"d":25,"v":0.3,"c":"g"},{"d":25.5,"v":0.2,"c":"r"},{"d":26,"v":0.26,"c":"g"},{"d":26.5,"v":0.14,"c":"b"},{"d":27,"v":0.22,"c":"g"},{"d":27.5,"v":0.3,"c":"r"},{"d":28,"v":0.18,"c":"b"},{"d":28.5,"v":0.24,"c":"g"},{"d":29,"v":0.12,"c":"b"},{"d":29.5,"v":0.2,"c":"b"},{"d":30,"v":0.26,"c":"g"},{"d":30.5,"v":0.16,"c":"b"},{"d":31,"v":0.22,"c":"b"},{"d":31.5,"v":0.3,"c":"b"},{"d":32,"v":0.36,"c":"g"},{"d":32.5,"v":0.44,"c":"g"},{"d":33,"v":0.5,"c":"g"},{"d":33.5,"v":0.4,"c":"g"},{"d":34,"v":0.46,"c":"g"},{"d":34.5,"v":0.54,"c":"p"},{"d":35,"v":0.6,"c":"p"},{"d":35.5,"v":0.52,"c":"p"},{"d":36,"v":0.46,"c":"r"},{"d":36.5,"v":0.4,"c":"r"},{"d":37,"v":0.34,"c":"r"},{"d":37.5,"v":0.3,"c":"r"},{"d":38,"v":0.26,"c":"r"},{"d":38.5,"v":0.22,"c":"r"},{"d":39,"v":0.28,"c":"r"},{"d":39.5,"v":0.2,"c":"r"},{"d":40,"v":0.16,"c":"r"},{"d":40.5,"v":0.24,"c":"b"},{"d":41,"v":0.18,"c":"r"},{"d":41.5,"v":0.12,"c":"b"},{"d":42,"v":0.2,"c":"r"},{"d":42.5,"v":0.14,"c":"b"},{"d":43,"v":0.26,"c":"r"},{"d":43.5,"v":0.34,"c":"r"},{"d":44,"v":0.28,"c":"r"},{"d":44.5,"v":0.38,"c":"r"},{"d":45,"v":0.3,"c":"r"},{"d":45.5,"v":0.4,"c":"r"},{"d":46,"v":0.32,"c":"r"},{"d":46.5,"v":0.26,"c":"b"},{"d":47,"v":0.34,"c":"r"},{"d":47.5,"v":0.28,"c":"r"},{"d":48,"v":0.36,"c":"r"},{"d":48.5,"v":0.3,"c":"b"},{"d":49,"v":0.24,"c":"r"},{"d":49.5,"v":0.32,"c":"r"},{"d":50,"v":0.2,"c":"b"},{"d":50.5,"v":0.28,"c":"r"},{"d":51,"v":0.34,"c":"r"},{"d":51.5,"v":0.24,"c":"b"},{"d":52,"v":0.3,"c":"b"},{"d":52.5,"v":0.2,"c":"r"},{"d":53,"v":0.26,"c":"b"},{"d":53.5,"v":0.16,"c":"b"},{"d":54,"v":0.24,"c":"b"},{"d":54.5,"v":0.3,"c":"b"},{"d":55,"v":0.2,"c":"r"},{"d":55.5,"v":0.26,"c":"b"},{"d":56,"v":0.16,"c":"b"},{"d":56.5,"v":0.22,"c":"b"},{"d":57,"v":0.12,"c":"r"},{"d":57.5,"v":0.2,"c":"b"},{"d":58,"v":0.26,"c":"b"},{"d":58.5,"v":0.16,"c":"b"},{"d":59,"v":0.22,"c":"b"},{"d":59.5,"v":0.12,"c":"b"},{"d":60,"v":0.18,"c":"b"},{"d":60.5,"v":0.08,"c":"b"},{"d":61,"v":0.14,"c":"r"},{"d":61.5,"v":0.2,"c":"b"},{"d":62,"v":0.1,"c":"b"},{"d":62.5,"v":0.16,"c":"r"},{"d":63,"v":0.22,"c":"b"},{"d":63.5,"v":0.12,"c":"b"},{"d":64,"v":0.18,"c":"r"},{"d":64.5,"v":0.1,"c":"b"},{"d":65,"v":0.14,"c":"b"},{"d":65.5,"v":0.2,"c":"r"},{"d":66,"v":0.12,"c":"b"},{"d":66.5,"v":0.18,"c":"r"},{"d":67,"v":0.24,"c":"r"},{"d":67.5,"v":0.16,"c":"r"},{"d":68,"v":0.26,"c":"r"},{"d":68.5,"v":0.34,"c":"r"},{"d":69,"v":0.42,"c":"r"},{"d":69.5,"v":0.5,"c":"r"},{"d":70,"v":0.56,"c":"r"},{"d":70.5,"v":0.64,"c":"r"},{"d":71,"v":0.58,"c":"r"},{"d":71.5,"v":0.68,"c":"r"},{"d":72,"v":0.5,"c":"r"},{"d":72.5,"v":0.42,"c":"r"},{"d":73,"v":0.34,"c":"r"},{"d":73.5,"v":0.26,"c":"g"},{"d":74,"v":0.2,"c":"g"},{"d":74.5,"v":0.14,"c":"g"},{"d":75,"v":0.18,"c":"g"},{"d":75.5,"v":0.1,"c":"p"},{"d":76,"v":0.16,"c":"g"},{"d":76.5,"v":0.22,"c":"g"},{"d":77,"v":0.12,"c":"b"},{"d":77.5,"v":0.18,"c":"g"},{"d":78,"v":0.1,"c":"b"},{"d":78.5,"v":0.16,"c":"b"},{"d":79,"v":0.22,"c":"b"},{"d":79.5,"v":0.14,"c":"g"},{"d":80,"v":0.2,"c":"b"},{"d":80.5,"v":0.26,"c":"b"},{"d":81,"v":0.16,"c":"r"},{"d":81.5,"v":0.22,"c":"b"},{"d":82,"v":0.28,"c":"b"},{"d":82.5,"v":0.18,"c":"r"},{"d":83,"v":0.24,"c":"b"},{"d":83.5,"v":0.3,"c":"r"},{"d":84,"v":0.2,"c":"b"},{"d":84.5,"v":0.26,"c":"r"},{"d":85,"v":0.32,"c":"r"},{"d":85.5,"v":0.22,"c":"b"},{"d":86,"v":0.28,"c":"r"},{"d":86.5,"v":0.18,"c":"b"},{"d":87,"v":0.24,"c":"r"},{"d":87.5,"v":0.3,"c":"r"},{"d":88,"v":0.2,"c":"b"},{"d":88.5,"v":0.26,"c":"r"},{"d":89,"v":0.16,"c":"b"},{"d":89.5,"v":0.22,"c":"r"},{"d":90,"v":0.28,"c":"r"},{"d":90.5,"v":0.18,"c":"b"},{"d":91,"v":0.24,"c":"r"},{"d":91.5,"v":0.14,"c":"r"}],
"b16":[{"d":1.5,"v":0.12,"c":"b"},{"d":8,"v":0.12,"c":"g"},{"d":8.5,"v":0.18,"c":"g"},{"d":9,"v":0.08,"c":"g"},{"d":9.5,"v":0.22,"c":"g"},{"d":10,"v":0.3,"c":"g"},{"d":10.5,"v":0.18,"c":"b"},{"d":11,"v":0.24,"c":"g"},{"d":11.5,"v":0.14,"c":"b"},{"d":12,"v":0.2,"c":"b"},{"d":12.5,"v":0.26,"c":"b"},{"d":13,"v":0.16,"c":"g"},{"d":13.5,"v":0.22,"c":"b"},{"d":14,"v":0.12,"c":"b"},{"d":14.5,"v":0.18,"c":"g"},{"d":15,"v":0.24,"c":"b"},{"d":15.5,"v":0.1,"c":"b"},{"d":16,"v":0.16,"c":"r"},{"d":16.5,"v":0.22,"c":"b"},{"d":17,"v":0.12,"c":"b"},{"d":17.5,"v":0.2,"c":"r"},{"d":18,"v":0.26,"c":"b"},{"d":18.5,"v":0.14,"c":"r"},{"d":19,"v":0.2,"c":"b"},{"d":19.5,"v":0.28,"c":"r"},{"d":20,"v":0.16,"c":"b"},{"d":20.5,"v":0.22,"c":"r"},{"d":21,"v":0.12,"c":"b"},{"d":21.5,"v":0.18,"c":"r"},{"d":22,"v":0.24,"c":"r"},{"d":22.5,"v":0.14,"c":"b"},{"d":23,"v":0.2,"c":"r"},{"d":23.5,"v":0.1,"c":"b"},{"d":24,"v":0.18,"c":"g"},{"d":24.5,"v":0.24,"c":"b"},{"d":25,"v":0.14,"c":"r"},{"d":25.5,"v":0.2,"c":"b"},{"d":26,"v":0.28,"c":"r"},{"d":26.5,"v":0.34,"c":"r"},{"d":27,"v":0.2,"c":"b"},{"d":27.5,"v":0.12,"c":"g"},{"d":28,"v":0.18,"c":"b"},{"d":28.5,"v":0.24,"c":"g"},{"d":29,"v":0.14,"c":"b"},{"d":29.5,"v":0.2,"c":"c"},{"d":30,"v":0.26,"c":"c"},{"d":30.5,"v":0.32,"c":"c"},{"d":31,"v":0.24,"c":"b"},{"d":31.5,"v":0.3,"c":"c"},{"d":32,"v":0.2,"c":"b"},{"d":32.5,"v":0.26,"c":"b"},{"d":33,"v":0.16,"c":"b"},{"d":33.5,"v":0.22,"c":"b"},{"d":34,"v":0.12,"c":"b"},{"d":34.5,"v":0.2,"c":"b"},{"d":35,"v":0.14,"c":"b"},{"d":35.5,"v":0.08,"c":"b"},{"d":36,"v":0.18,"c":"b"},{"d":36.5,"v":0.12,"c":"r"},{"d":37,"v":0.22,"c":"b"},{"d":37.5,"v":0.06,"c":"b"},{"d":38,"v":0.16,"c":"r"},{"d":38.5,"v":0.1,"c":"b"},{"d":39,"v":0.2,"c":"b"},{"d":39.5,"v":0.26,"c":"g"},{"d":40,"v":0.14,"c":"b"},{"d":40.5,"v":0.2,"c":"r"},{"d":41,"v":0.28,"c":"b"},{"d":41.5,"v":0.16,"c":"r"},{"d":42,"v":0.22,"c":"b"},{"d":42.5,"v":0.12,"c":"r"},{"d":43,"v":0.18,"c":"b"},{"d":43.5,"v":0.26,"c":"r"},{"d":44,"v":0.14,"c":"b"},{"d":44.5,"v":0.2,"c":"r"},{"d":45,"v":0.3,"c":"r"},{"d":45.5,"v":0.18,"c":"b"},{"d":46,"v":0.24,"c":"r"},{"d":46.5,"v":0.32,"c":"p"},{"d":47,"v":0.2,"c":"r"},{"d":47.5,"v":0.14,"c":"b"},{"d":48,"v":0.26,"c":"r"},{"d":48.5,"v":0.36,"c":"p"},{"d":49,"v":0.22,"c":"r"},{"d":49.5,"v":0.3,"c":"r"},{"d":50,"v":0.18,"c":"b"},{"d":50.5,"v":0.26,"c":"r"},{"d":51,"v":0.34,"c":"r"},{"d":51.5,"v":0.42,"c":"p"},{"d":52,"v":0.3,"c":"r"},{"d":52.5,"v":0.38,"c":"r"},{"d":53,"v":0.48,"c":"p"},{"d":53.5,"v":0.36,"c":"r"},{"d":54,"v":0.52,"c":"r"},{"d":54.5,"v":0.44,"c":"p"},{"d":55,"v":0.56,"c":"r"},{"d":55.5,"v":0.46,"c":"r"},{"d":56,"v":0.54,"c":"p"},{"d":56.5,"v":0.42,"c":"r"},{"d":57,"v":0.5,"c":"r"},{"d":57.5,"v":0.38,"c":"r"},{"d":58,"v":0.46,"c":"p"},{"d":58.5,"v":0.3,"c":"r"},{"d":59,"v":0.4,"c":"r"},{"d":59.5,"v":0.22,"c":"b"},{"d":60,"v":0.3,"c":"b"},{"d":60.5,"v":0.18,"c":"b"},{"d":61,"v":0.36,"c":"r"},{"d":61.5,"v":0.26,"c":"b"},{"d":62,"v":0.32,"c":"r"},{"d":62.5,"v":0.4,"c":"b"},{"d":63,"v":0.28,"c":"b"},{"d":63.5,"v":0.36,"c":"r"},{"d":64,"v":0.44,"c":"b"},{"d":64.5,"v":0.3,"c":"b"},{"d":65,"v":0.38,"c":"r"},{"d":65.5,"v":0.28,"c":"b"},{"d":66,"v":0.34,"c":"b"},{"d":66.5,"v":0.42,"c":"r"},{"d":67,"v":0.3,"c":"b"},{"d":67.5,"v":0.38,"c":"r"},{"d":68,"v":0.26,"c":"b"},{"d":68.5,"v":0.34,"c":"p"},{"d":69,"v":0.22,"c":"r"},{"d":69.5,"v":0.3,"c":"p"},{"d":70,"v":0.2,"c":"r"},{"d":70.5,"v":0.28,"c":"p"},{"d":71,"v":0.16,"c":"b"},{"d":71.5,"v":0.24,"c":"r"},{"d":72,"v":0.3,"c":"p"},{"d":72.5,"v":0.2,"c":"b"},{"d":73,"v":0.14,"c":"r"},{"d":73.5,"v":0.22,"c":"p"},{"d":74,"v":0.18,"c":"b"},{"d":74.5,"v":0.12,"c":"r"},{"d":75,"v":0.2,"c":"b"},{"d":75.5,"v":0.14,"c":"b"},{"d":76,"v":0.1,"c":"g"},{"d":76.5,"v":0.16,"c":"b"},{"d":77,"v":0.12,"c":"g"},{"d":77.5,"v":0.08,"c":"b"},{"d":78,"v":0.14,"c":"g"},{"d":78.5,"v":0.1,"c":"b"},{"d":79,"v":0.16,"c":"g"},{"d":79.5,"v":0.06,"c":"b"},{"d":80,"v":0.12,"c":"g"},{"d":80.5,"v":0.18,"c":"r"},{"d":81,"v":0.1,"c":"b"},{"d":81.5,"v":0.14,"c":"r"},{"d":82,"v":0.2,"c":"r"},{"d":82.5,"v":0.12,"c":"b"},{"d":83,"v":0.08,"c":"c"},{"d":83.5,"v":0.14,"c":"b"},{"d":84,"v":0.1,"c":"c"},{"d":84.5,"v":0.16,"c":"b"},{"d":85,"v":0.2,"c":"b"},{"d":85.5,"v":0.12,"c":"c"},{"d":86,"v":0.08,"c":"b"},{"d":86.5,"v":0.14,"c":"c"},{"d":87,"v":0.1,"c":"b"},{"d":87.5,"v":0.16,"c":"c"},{"d":88,"v":0.12,"c":"b"},{"d":88.5,"v":0.18,"c":"b"},{"d":89,"v":0.1,"c":"c"},{"d":89.5,"v":0.14,"c":"b"},{"d":90,"v":0.08,"c":"b"},{"d":90.5,"v":0.12,"c":"c"},{"d":91,"v":0.16,"c":"b"},{"d":91.5,"v":0.1,"c":"b"}]
},
"spacing":35,
"bounds":"full",
"vconcat":[
{"spacing":10,"bounds":"flush","vconcat":[
{"data":{"name":"a11"},"title":"2011","width":681,"height":110,"mark":"circle","encoding":{"x":{"field":"d","type":"quantitative","title":null,"scale":{"domain":[0,91],"nice":false,"zero":false},"axis":{"values":[0,30,61],"labelExpr":"datum.value<1?'April':datum.value<40?'May':'June'"}},"y":{"field":"v","type":"quantitative","title":null,"scale":{"domain":[0,2.75],"nice":false},"axis":{"orient":"right","values":[0,0.5,1,1.5,2,2.5,2.75],"labelExpr":"datum.value==0||datum.value>2.6?'':format(datum.value,'.1f')"}},"color":{"field":"c","type":"nominal","legend":null,"scale":{"domain":["r","b","g","c","p"],"range":["#ee2a4c","#3b46a8","#7cc242","#3db8e2","#f59fab"]}}}},
{"data":{"name":"a12"},"title":"2012","width":681,"height":110,"mark":"circle","encoding":{"x":{"field":"d","type":"quantitative","title":null,"scale":{"domain":[0,91],"nice":false,"zero":false},"axis":{"values":[0,30,61],"labelExpr":"datum.value<1?'April':datum.value<40?'May':'June'"}},"y":{"field":"v","type":"quantitative","title":null,"scale":{"domain":[0,2.75],"nice":false},"axis":{"orient":"right","values":[0,0.5,1,1.5,2,2.5,2.75],"labelExpr":"datum.value==0||datum.value>2.6?'':format(datum.value,'.1f')"}},"color":{"field":"c","type":"nominal","legend":null,"scale":{"domain":["r","b","g","c","p"],"range":["#ee2a4c","#3b46a8","#7cc242","#3db8e2","#f59fab"]}}}},
{"data":{"name":"a13"},"title":"2013","width":681,"height":110,"mark":"circle","encoding":{"x":{"field":"d","type":"quantitative","title":null,"scale":{"domain":[0,91],"nice":false,"zero":false},"axis":{"values":[0,30,61],"labelExpr":"datum.value<1?'April':datum.value<40?'May':'June'"}},"y":{"field":"v","type":"quantitative","title":null,"scale":{"domain":[0,2.75],"nice":false},"axis":{"orient":"right","values":[0,0.5,1,1.5,2,2.5,2.75],"labelExpr":"datum.value==0||datum.value>2.6?'':format(datum.value,'.1f')"}},"color":{"field":"c","type":"nominal","legend":null,"scale":{"domain":["r","b","g","c","p"],"range":["#ee2a4c","#3b46a8","#7cc242","#3db8e2","#f59fab"]}}}},
{"data":{"name":"a14"},"title":"2014","width":681,"height":110,"mark":"circle","encoding":{"x":{"field":"d","type":"quantitative","title":null,"scale":{"domain":[0,91],"nice":false,"zero":false},"axis":{"values":[0,30,61],"labelExpr":"datum.value<1?'April':datum.value<40?'May':'June'"}},"y":{"field":"v","type":"quantitative","title":null,"scale":{"domain":[0,2.75],"nice":false},"axis":{"orient":"right","values":[0,0.5,1,1.5,2,2.5,2.75],"labelExpr":"datum.value==0||datum.value>2.6?'':format(datum.value,'.1f')"}},"color":{"field":"c","type":"nominal","legend":null,"scale":{"domain":["r","b","g","c","p"],"range":["#ee2a4c","#3b46a8","#7cc242","#3db8e2","#f59fab"]}}}},
{"data":{"name":"a15"},"title":"2015","width":681,"height":110,"mark":"circle","encoding":{"x":{"field":"d","type":"quantitative","title":null,"scale":{"domain":[0,91],"nice":false,"zero":false},"axis":{"values":[0,30,61],"labelExpr":"datum.value<1?'April':datum.value<40?'May':'June'"}},"y":{"field":"v","type":"quantitative","title":null,"scale":{"domain":[0,2.75],"nice":false},"axis":{"orient":"right","values":[0,0.5,1,1.5,2,2.5,2.75],"labelExpr":"datum.value==0||datum.value>2.6?'':format(datum.value,'.1f')"}},"color":{"field":"c","type":"nominal","legend":null,"scale":{"domain":["r","b","g","c","p"],"range":["#ee2a4c","#3b46a8","#7cc242","#3db8e2","#f59fab"]}}}},
{"data":{"name":"a16"},"title":"2016","width":681,"height":110,"mark":"circle","encoding":{"x":{"field":"d","type":"quantitative","title":null,"scale":{"domain":[0,91],"nice":false,"zero":false},"axis":{"values":[0,30,61],"labelExpr":"datum.value<1?'April':datum.value<40?'May':'June'"}},"y":{"field":"v","type":"quantitative","title":null,"scale":{"domain":[0,2.75],"nice":false},"axis":{"orient":"right","values":[0,0.5,1,1.5,2,2.5,2.75],"labelExpr":"datum.value==0||datum.value>2.6?'':format(datum.value,'.1f')"}},"color":{"field":"c","type":"nominal","legend":null,"scale":{"domain":["r","b","g","c","p"],"range":["#ee2a4c","#3b46a8","#7cc242","#3db8e2","#f59fab"]}}}}
]},
{"spacing":10,"bounds":"flush","vconcat":[
{"data":{"name":"b11"},"title":"2011","width":668,"height":110,"mark":"circle","encoding":{"x":{"field":"d","type":"quantitative","title":null,"scale":{"domain":[0,92],"nice":false,"zero":false},"axis":{"values":[0,31,61],"labelExpr":"datum.value<1?'October':datum.value<40?'November':'December'"}},"y":{"field":"v","type":"quantitative","title":null,"scale":{"domain":[0,2.75],"nice":false},"axis":{"orient":"right","values":[0,0.5,1,1.5,2,2.5,2.75],"labelExpr":"datum.value==0||datum.value>2.6?'':format(datum.value,'.1f')"}},"color":{"field":"c","type":"nominal","legend":null,"scale":{"domain":["r","b","g","c","p"],"range":["#ee2a4c","#3b46a8","#7cc242","#3db8e2","#f59fab"]}}}},
{"data":{"name":"b12"},"title":"2012","width":668,"height":110,"mark":"circle","encoding":{"x":{"field":"d","type":"quantitative","title":null,"scale":{"domain":[0,92],"nice":false,"zero":false},"axis":{"values":[0,31,61],"labelExpr":"datum.value<1?'October':datum.value<40?'November':'December'"}},"y":{"field":"v","type":"quantitative","title":null,"scale":{"domain":[0,2.75],"nice":false},"axis":{"orient":"right","values":[0,0.5,1,1.5,2,2.5,2.75],"labelExpr":"datum.value==0||datum.value>2.6?'':format(datum.value,'.1f')"}},"color":{"field":"c","type":"nominal","legend":null,"scale":{"domain":["r","b","g","c","p"],"range":["#ee2a4c","#3b46a8","#7cc242","#3db8e2","#f59fab"]}}}},
{"data":{"name":"b13"},"title":"2013","width":668,"height":110,"mark":"circle","encoding":{"x":{"field":"d","type":"quantitative","title":null,"scale":{"domain":[0,92],"nice":false,"zero":false},"axis":{"values":[0,31,61],"labelExpr":"datum.value<1?'October':datum.value<40?'November':'December'"}},"y":{"field":"v","type":"quantitative","title":null,"scale":{"domain":[0,2.75],"nice":false},"axis":{"orient":"right","values":[0,0.5,1,1.5,2,2.5,2.75],"labelExpr":"datum.value==0||datum.value>2.6?'':format(datum.value,'.1f')"}},"color":{"field":"c","type":"nominal","legend":null,"scale":{"domain":["r","b","g","c","p"],"range":["#ee2a4c","#3b46a8","#7cc242","#3db8e2","#f59fab"]}}}},
{"data":{"name":"b14"},"title":"2014","width":668,"height":110,"mark":"circle","encoding":{"x":{"field":"d","type":"quantitative","title":null,"scale":{"domain":[0,92],"nice":false,"zero":false},"axis":{"values":[0,31,61],"labelExpr":"datum.value<1?'October':datum.value<40?'November':'December'","domainColor":"#999"}},"y":{"field":"v","type":"quantitative","title":null,"scale":{"domain":[0,2.75],"nice":false},"axis":{"orient":"right","values":[0,0.5,1,1.5,2,2.5,2.75],"labelExpr":"datum.value==0||datum.value>2.6?'':format(datum.value,'.1f')"}},"color":{"field":"c","type":"nominal","legend":null,"scale":{"domain":["r","b","g","c","p"],"range":["#ee2a4c","#3b46a8","#7cc242","#3db8e2","#f59fab"]}}}},
{"data":{"name":"b15"},"title":"2015","width":668,"height":110,"mark":"circle","encoding":{"x":{"field":"d","type":"quantitative","title":null,"scale":{"domain":[0,92],"nice":false,"zero":false},"axis":{"values":[0,31,61],"labelExpr":"datum.value<1?'October':datum.value<40?'November':'December'","domainColor":"#999"}},"y":{"field":"v","type":"quantitative","title":null,"scale":{"domain":[0,2.75],"nice":false},"axis":{"orient":"right","values":[0,0.5,1,1.5,2,2.5,2.75],"labelExpr":"datum.value==0||datum.value>2.6?'':format(datum.value,'.1f')"}},"color":{"field":"c","type":"nominal","legend":null,"scale":{"domain":["r","b","g","c","p"],"range":["#ee2a4c","#3b46a8","#7cc242","#3db8e2","#f59fab"]}}}},
{"data":{"name":"b16"},"title":"2016","width":668,"height":110,"mark":"circle","encoding":{"x":{"field":"d","type":"quantitative","title":null,"scale":{"domain":[0,92],"nice":false,"zero":false},"axis":{"values":[0,31,61],"labelExpr":"datum.value<1?'October':datum.value<40?'November':'December'"}},"y":{"field":"v","type":"quantitative","title":null,"scale":{"domain":[0,2.75],"nice":false},"axis":{"orient":"right","values":[0,0.5,1,1.5,2,2.5,2.75],"labelExpr":"datum.value==0||datum.value>2.6?'':format(datum.value,'.1f')"}},"color":{"field":"c","type":"nominal","legend":null,"scale":{"domain":["r","b","g","c","p"],"range":["#ee2a4c","#3b46a8","#7cc242","#3db8e2","#f59fab"]}}}}
]}
]
}
